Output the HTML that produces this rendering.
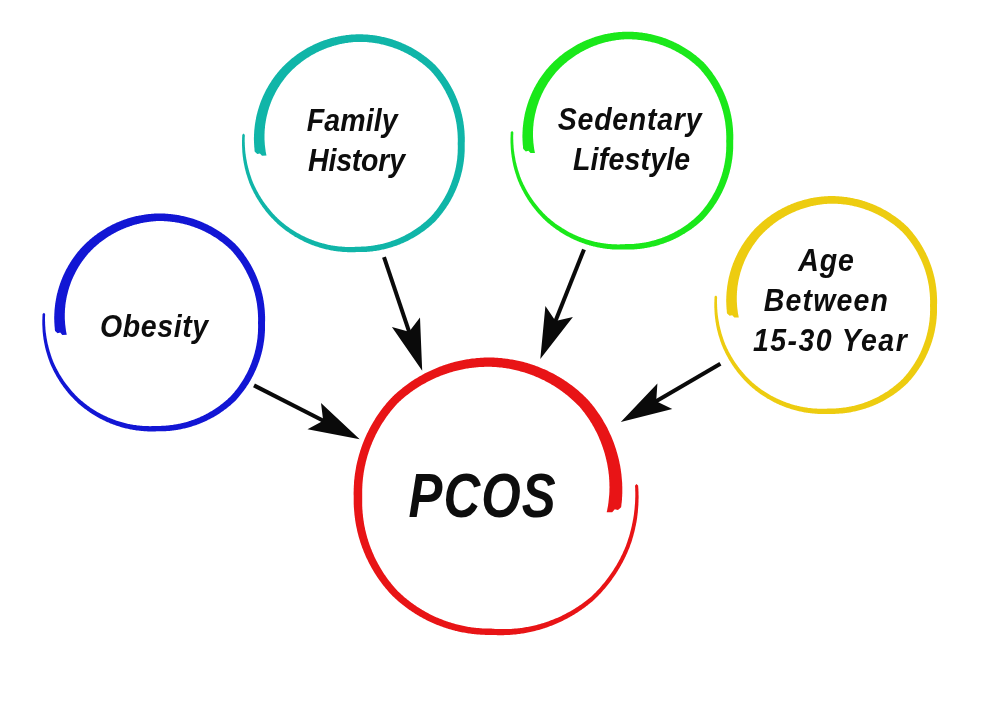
<!DOCTYPE html>
<html><head><meta charset="utf-8"><style>
html,body{margin:0;padding:0;background:#fff;width:1000px;height:701px;overflow:hidden}
svg{display:block;will-change:transform}
text{font-family:"Liberation Sans",sans-serif;font-weight:bold;font-style:italic;fill:#0d0d0d}
</style></head><body>
<svg width="1000" height="701" viewBox="0 0 1000 701">
<rect width="1000" height="701" fill="#fff"/>
<path d="M55.1 330.9 L54.9 330.1 L54.8 329.2 L54.8 328.3 L54.7 327.4 L54.6 326.5 L54.5 325.6 L54.5 324.7 L54.4 323.8 L54.4 322.9 L54.3 322.0 L54.3 321.1 L54.3 320.2 L54.2 319.3 L54.2 318.4 L54.2 317.5 L54.2 316.6 L54.3 315.7 L54.3 314.8 L54.3 313.9 L54.4 313.0 L54.4 312.1 L54.5 311.2 L54.5 310.3 L54.6 309.4 L54.7 308.5 L54.8 307.6 L54.9 306.7 L55.0 305.8 L55.1 304.9 L55.2 304.0 L55.3 303.1 L55.5 302.2 L55.6 301.3 L55.8 300.4 L55.9 299.5 L56.1 298.6 L56.3 297.7 L56.4 296.8 L56.6 295.9 L56.8 295.0 L57.0 294.1 L57.2 293.3 L57.5 292.4 L57.7 291.5 L57.9 290.6 L58.2 289.7 L58.4 288.9 L58.7 288.0 L59.0 287.1 L59.2 286.2 L59.5 285.4 L59.8 284.5 L60.1 283.6 L60.4 282.8 L60.7 281.9 L61.0 281.0 L61.4 280.2 L61.7 279.3 L62.1 278.5 L62.4 277.6 L62.8 276.8 L63.1 276.0 L63.5 275.1 L63.9 274.3 L64.3 273.4 L64.7 272.6 L65.1 271.8 L65.5 271.0 L65.9 270.1 L66.3 269.3 L66.8 268.5 L67.2 267.7 L67.7 266.9 L68.1 266.1 L68.6 265.3 L69.1 264.5 L69.5 263.7 L70.0 262.9 L70.5 262.1 L71.0 261.4 L71.5 260.6 L72.0 259.8 L72.6 259.0 L73.1 258.3 L73.6 257.5 L74.2 256.8 L74.7 256.0 L75.3 255.3 L75.8 254.5 L76.4 253.8 L77.0 253.1 L77.5 252.3 L78.1 251.6 L78.7 250.9 L79.3 250.2 L79.9 249.5 L80.5 248.8 L81.2 248.1 L81.8 247.4 L82.4 246.7 L83.1 246.0 L83.7 245.4 L84.4 244.7 L85.0 244.1 L85.7 243.4 L86.4 242.8 L87.1 242.1 L87.8 241.5 L88.5 240.9 L89.2 240.2 L89.9 239.6 L90.6 239.0 L91.3 238.4 L92.0 237.8 L92.7 237.2 L93.5 236.7 L94.2 236.1 L95.0 235.5 L95.7 234.9 L96.5 234.4 L97.2 233.8 L98.0 233.3 L98.8 232.7 L99.5 232.2 L100.3 231.7 L101.1 231.2 L101.9 230.7 L102.7 230.2 L103.5 229.7 L104.3 229.2 L105.1 228.7 L105.9 228.2 L106.7 227.7 L107.5 227.3 L108.3 226.8 L109.2 226.4 L110.0 225.9 L110.8 225.5 L111.7 225.1 L112.5 224.6 L113.4 224.2 L114.2 223.8 L115.1 223.4 L115.9 223.0 L116.8 222.6 L117.7 222.3 L118.5 221.9 L119.4 221.5 L120.3 221.2 L121.2 220.8 L122.0 220.5 L122.9 220.2 L123.8 219.8 L124.7 219.5 L125.6 219.2 L126.5 218.9 L127.4 218.6 L128.3 218.3 L129.2 218.1 L130.1 217.8 L131.0 217.5 L131.9 217.3 L132.9 217.0 L133.8 216.8 L134.7 216.6 L135.6 216.3 L136.5 216.1 L137.5 215.9 L138.4 215.7 L139.3 215.5 L140.3 215.4 L141.2 215.2 L142.1 215.0 L143.1 214.9 L144.0 214.7 L145.0 214.6 L145.9 214.4 L146.8 214.3 L147.8 214.2 L148.7 214.1 L149.7 214.0 L150.6 213.9 L151.6 213.8 L152.5 213.7 L153.5 213.7 L154.4 213.6 L155.4 213.6 L156.3 213.5 L157.3 213.5 L158.3 213.5 L159.2 213.5 L160.2 213.5 L161.1 213.5 L162.1 213.5 L163.0 213.5 L164.0 213.6 L164.9 213.6 L165.9 213.7 L166.8 213.7 L167.8 213.8 L168.8 213.9 L169.7 214.0 L170.7 214.1 L171.6 214.2 L172.6 214.3 L173.5 214.4 L174.5 214.5 L175.4 214.7 L176.4 214.8 L177.3 215.0 L178.2 215.1 L179.2 215.3 L180.1 215.5 L181.1 215.7 L182.0 215.9 L182.9 216.1 L183.9 216.3 L184.8 216.5 L185.7 216.7 L186.7 217.0 L187.6 217.2 L188.5 217.5 L189.5 217.7 L190.4 218.0 L191.3 218.3 L192.2 218.5 L193.1 218.8 L194.0 219.1 L195.0 219.5 L195.9 219.8 L196.8 220.1 L197.7 220.4 L198.6 220.8 L199.5 221.1 L200.4 221.5 L201.2 221.8 L202.1 222.2 L203.0 222.6 L203.9 223.0 L204.8 223.4 L205.7 223.8 L206.5 224.2 L207.4 224.6 L208.3 225.0 L209.1 225.5 L210.0 225.9 L210.8 226.3 L211.7 226.8 L212.5 227.3 L213.4 227.7 L214.2 228.2 L215.0 228.7 L215.9 229.2 L216.7 229.7 L217.5 230.2 L218.3 230.7 L219.1 231.2 L219.9 231.8 L220.7 232.3 L221.5 232.8 L222.3 233.4 L223.1 233.9 L223.9 234.5 L224.7 235.1 L225.5 235.7 L226.2 236.2 L227.0 236.8 L227.8 237.4 L228.5 238.0 L229.3 238.7 L230.0 239.3 L230.7 239.9 L231.5 240.5 L232.2 241.2 L232.9 241.8 L233.6 242.5 L234.3 243.1 L235.1 243.8 L235.8 244.4 L236.4 245.2 L237.1 245.9 L237.7 246.6 L238.3 247.3 L239.0 248.1 L239.6 248.8 L240.2 249.5 L240.8 250.3 L241.4 251.1 L242.0 251.8 L242.6 252.6 L243.2 253.3 L243.8 254.1 L244.3 254.9 L244.9 255.7 L245.4 256.5 L246.0 257.3 L246.5 258.1 L247.1 258.9 L247.6 259.7 L248.1 260.5 L248.6 261.3 L249.1 262.1 L249.6 262.9 L250.1 263.8 L250.6 264.6 L251.1 265.4 L251.5 266.3 L252.0 267.1 L252.4 268.0 L252.9 268.8 L253.3 269.7 L253.8 270.5 L254.2 271.4 L254.6 272.3 L255.0 273.1 L255.4 274.0 L255.8 274.9 L256.2 275.7 L256.5 276.6 L256.9 277.5 L257.3 278.4 L257.6 279.3 L258.0 280.2 L258.3 281.1 L258.6 282.0 L259.0 282.9 L259.3 283.8 L259.6 284.7 L259.9 285.6 L260.2 286.5 L260.4 287.4 L260.7 288.3 L261.0 289.2 L261.2 290.1 L261.5 291.1 L261.7 292.0 L261.9 292.9 L262.2 293.8 L262.4 294.7 L262.6 295.7 L262.8 296.6 L263.0 297.5 L263.2 298.5 L263.3 299.4 L263.5 300.3 L263.7 301.3 L263.8 302.2 L263.9 303.1 L264.1 304.1 L264.2 305.0 L264.3 306.0 L264.4 306.9 L264.5 307.8 L264.6 308.8 L264.7 309.7 L264.8 310.7 L264.8 311.6 L264.9 312.5 L264.9 313.5 L265.0 314.4 L265.0 315.4 L265.1 316.3 L265.1 317.3 L265.1 318.2 L265.1 319.1 L265.1 320.1 L265.1 321.0 L265.0 322.0 L265.0 322.9 L265.0 323.8 L265.0 324.8 L265.0 325.7 L265.0 326.7 L265.0 327.6 L265.0 328.5 L265.0 329.5 L265.0 330.4 L264.9 331.4 L264.9 332.3 L264.8 333.3 L264.7 334.2 L264.7 335.1 L264.6 336.1 L264.5 337.0 L264.4 338.0 L264.3 338.9 L264.2 339.8 L264.1 340.8 L263.9 341.7 L263.8 342.6 L263.6 343.6 L263.5 344.5 L263.3 345.4 L263.1 346.4 L263.0 347.3 L262.8 348.2 L262.6 349.1 L262.4 350.1 L262.2 351.0 L261.9 351.9 L261.7 352.8 L261.5 353.8 L261.2 354.7 L261.0 355.6 L260.7 356.5 L260.4 357.4 L260.2 358.3 L259.9 359.2 L259.6 360.1 L259.3 361.0 L259.0 361.9 L258.6 362.8 L258.3 363.7 L258.0 364.6 L257.6 365.5 L257.3 366.4 L256.9 367.3 L256.6 368.1 L256.2 369.0 L255.8 369.9 L255.4 370.8 L255.0 371.6 L254.6 372.5 L254.2 373.3 L253.8 374.2 L253.4 375.1 L252.9 375.9 L252.5 376.8 L252.0 377.6 L251.6 378.4 L251.1 379.3 L250.7 380.1 L250.2 380.9 L249.7 381.8 L249.2 382.6 L248.7 383.4 L248.2 384.2 L247.7 385.0 L247.1 385.8 L246.6 386.6 L246.1 387.4 L245.5 388.2 L245.0 389.0 L244.4 389.8 L243.9 390.5 L243.3 391.3 L242.7 392.1 L242.1 392.8 L241.5 393.6 L240.9 394.3 L240.3 395.1 L239.7 395.8 L239.1 396.6 L238.5 397.3 L237.8 398.0 L237.2 398.7 L236.6 399.4 L235.9 400.2 L235.3 400.9 L234.6 401.5 L233.9 402.2 L233.1 402.8 L232.4 403.5 L231.7 404.1 L231.0 404.7 L230.3 405.4 L229.5 406.0 L228.8 406.6 L228.0 407.2 L227.3 407.8 L226.5 408.4 L225.8 409.0 L225.0 409.6 L224.2 410.1 L223.5 410.7 L222.7 411.2 L221.9 411.8 L221.1 412.3 L220.3 412.9 L219.5 413.4 L218.7 413.9 L217.9 414.4 L217.1 414.9 L216.3 415.5 L215.4 415.9 L214.6 416.4 L213.8 416.9 L213.0 417.4 L212.1 417.8 L211.3 418.3 L210.4 418.8 L209.6 419.2 L208.7 419.6 L207.9 420.1 L207.0 420.5 L206.2 420.9 L205.3 421.3 L204.4 421.7 L203.5 422.1 L202.7 422.5 L201.8 422.8 L200.9 423.2 L200.0 423.6 L199.1 423.9 L198.2 424.2 L197.4 424.6 L196.5 424.9 L195.6 425.2 L194.7 425.5 L193.8 425.8 L192.8 426.1 L191.9 426.4 L191.0 426.7 L190.1 427.0 L189.2 427.2 L188.3 427.5 L187.4 427.7 L186.4 428.0 L185.5 428.2 L184.6 428.4 L183.7 428.6 L182.7 428.8 L181.8 429.0 L180.9 429.2 L179.9 429.4 L179.0 429.6 L178.1 429.8 L177.1 429.9 L176.2 430.1 L175.3 430.2 L174.3 430.3 L173.4 430.5 L172.4 430.6 L171.5 430.7 L170.5 430.8 L169.6 430.9 L168.7 431.0 L167.7 431.0 L166.8 431.1 L165.8 431.2 L164.9 431.2 L163.9 431.2 L163.0 431.3 L162.0 431.3 L161.1 431.3 L160.1 431.3 L159.2 431.3 L158.2 431.3 L157.3 431.3 L156.4 431.3 L155.4 431.4 L154.5 431.4 L153.5 431.4 L152.6 431.4 L151.6 431.4 L150.7 431.4 L149.7 431.4 L148.8 431.4 L147.8 431.4 L146.9 431.3 L145.9 431.3 L145.0 431.2 L144.0 431.2 L143.1 431.1 L142.1 431.0 L141.2 430.9 L140.2 430.8 L139.3 430.7 L138.3 430.6 L137.4 430.5 L136.4 430.4 L135.5 430.2 L134.5 430.1 L133.6 429.9 L132.6 429.8 L131.7 429.6 L130.7 429.4 L129.8 429.2 L128.9 429.0 L127.9 428.8 L127.0 428.6 L126.0 428.4 L125.1 428.2 L124.2 427.9 L123.3 427.7 L122.3 427.4 L121.4 427.2 L120.5 426.9 L119.5 426.6 L118.6 426.3 L117.7 426.0 L116.8 425.7 L115.9 425.4 L115.0 425.1 L114.1 424.8 L113.1 424.4 L112.2 424.1 L111.3 423.7 L110.4 423.4 L109.5 423.0 L108.7 422.6 L107.8 422.3 L106.9 421.9 L106.0 421.5 L105.1 421.1 L104.2 420.6 L103.4 420.2 L102.5 419.8 L101.6 419.3 L100.8 418.9 L99.9 418.4 L99.0 418.0 L98.2 417.5 L97.3 417.0 L96.5 416.5 L95.6 416.1 L94.8 415.6 L94.0 415.0 L93.1 414.5 L92.3 414.0 L91.5 413.5 L90.7 412.9 L89.9 412.4 L89.1 411.8 L88.2 411.3 L87.4 410.7 L86.7 410.1 L85.9 409.6 L85.1 409.0 L84.3 408.4 L83.5 407.8 L82.8 407.2 L82.0 406.5 L81.2 405.9 L80.5 405.3 L79.7 404.7 L79.0 404.0 L78.2 403.4 L77.5 402.7 L76.8 402.0 L76.1 401.3 L75.4 400.7 L74.7 400.0 L74.0 399.3 L73.3 398.5 L72.6 397.8 L71.9 397.1 L71.3 396.4 L70.6 395.7 L69.9 394.9 L69.3 394.2 L68.6 393.4 L68.0 392.7 L67.4 391.9 L66.7 391.1 L66.1 390.4 L65.5 389.6 L64.9 388.8 L64.3 388.0 L63.7 387.2 L63.1 386.4 L62.5 385.6 L62.0 384.8 L61.4 384.0 L60.8 383.2 L60.3 382.3 L59.7 381.5 L59.2 380.7 L58.7 379.8 L58.2 379.0 L57.6 378.1 L57.1 377.3 L56.6 376.4 L56.1 375.6 L55.7 374.7 L55.2 373.8 L54.7 372.9 L54.2 372.1 L53.8 371.2 L53.3 370.3 L52.9 369.4 L52.5 368.5 L52.0 367.6 L51.6 366.7 L51.2 365.8 L50.8 364.9 L50.4 363.9 L50.0 363.0 L49.6 362.1 L49.3 361.1 L49.0 360.2 L48.6 359.3 L48.3 358.3 L48.0 357.4 L47.7 356.4 L47.4 355.5 L47.1 354.5 L46.8 353.6 L46.5 352.6 L46.2 351.6 L46.0 350.7 L45.7 349.7 L45.5 348.7 L45.2 347.7 L45.0 346.8 L44.8 345.8 L44.6 344.8 L44.4 343.8 L44.2 342.8 L44.0 341.9 L43.9 340.9 L43.7 339.9 L43.5 338.9 L43.4 337.9 L43.3 336.9 L43.1 335.9 L43.0 334.9 L42.9 333.9 L42.8 332.9 L42.7 331.9 L42.6 330.9 L42.6 329.9 L42.5 328.9 L42.5 327.9 L42.4 326.9 L42.4 325.9 L42.3 324.9 L42.3 323.9 L42.3 322.9 L42.3 321.9 L42.3 320.9 L42.3 319.9 L42.4 318.9 L42.4 317.9 L42.4 316.9 L42.5 315.9 L42.5 314.9 L42.6 313.9 L44.0 312.8 L45.1 314.1 L45.1 315.1 L45.1 316.0 L45.0 317.0 L45.0 318.0 L45.0 319.0 L45.0 320.0 L45.0 320.9 L45.1 321.9 L45.1 322.9 L45.1 323.9 L45.2 324.9 L45.2 325.8 L45.3 326.8 L45.4 327.8 L45.4 328.8 L45.5 329.7 L45.6 330.7 L45.7 331.7 L45.8 332.7 L46.0 333.6 L46.1 334.6 L46.2 335.6 L46.4 336.5 L46.5 337.5 L46.7 338.4 L46.9 339.4 L47.1 340.4 L47.2 341.3 L47.4 342.3 L47.6 343.2 L47.8 344.2 L48.1 345.1 L48.3 346.1 L48.5 347.0 L48.8 348.0 L49.0 348.9 L49.3 349.8 L49.5 350.8 L49.8 351.7 L50.1 352.6 L50.4 353.6 L50.7 354.5 L51.0 355.4 L51.3 356.3 L51.6 357.2 L51.9 358.2 L52.3 359.1 L52.6 360.0 L53.0 360.9 L53.3 361.8 L53.7 362.7 L54.1 363.5 L54.5 364.4 L54.9 365.3 L55.3 366.2 L55.8 367.0 L56.2 367.9 L56.6 368.8 L57.1 369.6 L57.5 370.5 L58.0 371.3 L58.5 372.2 L58.9 373.0 L59.4 373.9 L59.9 374.7 L60.4 375.5 L60.9 376.3 L61.4 377.1 L61.9 378.0 L62.5 378.8 L63.0 379.6 L63.5 380.4 L64.1 381.2 L64.6 381.9 L65.2 382.7 L65.7 383.5 L66.3 384.3 L66.9 385.0 L67.5 385.8 L68.1 386.6 L68.7 387.3 L69.3 388.0 L69.9 388.8 L70.5 389.5 L71.1 390.2 L71.7 391.0 L72.4 391.7 L73.0 392.4 L73.6 393.1 L74.3 393.8 L74.9 394.5 L75.6 395.2 L76.3 395.9 L77.0 396.5 L77.6 397.2 L78.3 397.9 L79.0 398.5 L79.7 399.2 L80.4 399.8 L81.1 400.4 L81.8 401.0 L82.6 401.6 L83.3 402.2 L84.0 402.8 L84.8 403.4 L85.5 404.0 L86.3 404.6 L87.0 405.2 L87.8 405.7 L88.6 406.3 L89.3 406.8 L90.1 407.4 L90.9 407.9 L91.7 408.4 L92.5 408.9 L93.3 409.4 L94.1 410.0 L94.9 410.4 L95.7 410.9 L96.5 411.4 L97.3 411.9 L98.1 412.4 L98.9 412.8 L99.7 413.3 L100.6 413.7 L101.4 414.2 L102.2 414.6 L103.0 415.0 L103.9 415.4 L104.7 415.8 L105.6 416.2 L106.4 416.6 L107.3 417.0 L108.1 417.4 L109.0 417.7 L109.8 418.1 L110.7 418.5 L111.6 418.8 L112.4 419.1 L113.3 419.5 L114.2 419.8 L115.0 420.1 L115.9 420.4 L116.8 420.7 L117.7 421.0 L118.5 421.3 L119.4 421.6 L120.3 421.8 L121.2 422.1 L122.1 422.3 L123.0 422.6 L123.9 422.8 L124.8 423.0 L125.7 423.3 L126.6 423.5 L127.4 423.7 L128.3 423.9 L129.2 424.1 L130.1 424.2 L131.0 424.4 L131.9 424.6 L132.9 424.7 L133.8 424.9 L134.7 425.0 L135.6 425.1 L136.5 425.3 L137.4 425.4 L138.3 425.5 L139.2 425.6 L140.1 425.7 L141.0 425.8 L141.9 425.8 L142.8 425.9 L143.7 426.0 L144.6 426.0 L145.5 426.1 L146.5 426.1 L147.4 426.1 L148.3 426.1 L149.2 426.2 L150.1 426.2 L151.0 426.2 L151.9 426.1 L152.8 426.1 L153.7 426.1 L154.6 426.1 L155.5 426.0 L156.4 426.0 L157.3 425.9 L158.2 425.9 L159.1 425.9 L160.0 425.9 L160.9 425.9 L161.8 425.8 L162.7 425.8 L163.6 425.8 L164.5 425.7 L165.4 425.7 L166.3 425.6 L167.2 425.5 L168.1 425.4 L169.0 425.3 L169.9 425.2 L170.8 425.1 L171.7 425.0 L172.5 424.9 L173.4 424.8 L174.3 424.6 L175.2 424.5 L176.1 424.3 L177.0 424.2 L177.9 424.0 L178.8 423.8 L179.6 423.7 L180.5 423.5 L181.4 423.3 L182.3 423.1 L183.1 422.9 L184.0 422.6 L184.9 422.4 L185.8 422.2 L186.6 421.9 L187.5 421.7 L188.4 421.4 L189.2 421.1 L190.1 420.9 L190.9 420.6 L191.8 420.3 L192.6 420.0 L193.5 419.7 L194.3 419.4 L195.2 419.1 L196.0 418.7 L196.9 418.4 L197.7 418.1 L198.5 417.7 L199.4 417.4 L200.2 417.0 L201.0 416.6 L201.8 416.2 L202.6 415.9 L203.5 415.5 L204.3 415.1 L205.1 414.7 L205.9 414.3 L206.7 413.8 L207.5 413.4 L208.3 413.0 L209.0 412.5 L209.8 412.1 L210.6 411.6 L211.4 411.2 L212.2 410.7 L212.9 410.2 L213.7 409.7 L214.5 409.3 L215.2 408.8 L216.0 408.3 L216.7 407.8 L217.5 407.2 L218.2 406.7 L218.9 406.2 L219.7 405.7 L220.4 405.1 L221.1 404.6 L221.8 404.0 L222.5 403.5 L223.2 402.9 L223.9 402.3 L224.6 401.7 L225.3 401.2 L226.0 400.6 L226.7 400.0 L227.4 399.4 L228.0 398.8 L228.7 398.1 L229.4 397.5 L230.0 396.9 L230.7 396.3 L231.3 395.6 L231.9 394.9 L232.5 394.2 L233.1 393.6 L233.7 392.9 L234.3 392.2 L234.8 391.5 L235.4 390.8 L236.0 390.1 L236.5 389.4 L237.1 388.7 L237.6 387.9 L238.2 387.2 L238.7 386.5 L239.2 385.7 L239.7 385.0 L240.2 384.3 L240.7 383.5 L241.2 382.8 L241.7 382.0 L242.2 381.3 L242.7 380.5 L243.2 379.7 L243.6 379.0 L244.1 378.2 L244.5 377.4 L245.0 376.6 L245.4 375.8 L245.8 375.1 L246.3 374.3 L246.7 373.5 L247.1 372.7 L247.5 371.9 L247.9 371.1 L248.3 370.3 L248.7 369.4 L249.0 368.6 L249.4 367.8 L249.8 367.0 L250.1 366.2 L250.4 365.3 L250.8 364.5 L251.1 363.7 L251.4 362.9 L251.7 362.0 L252.0 361.2 L252.3 360.3 L252.6 359.5 L252.9 358.7 L253.2 357.8 L253.5 357.0 L253.7 356.1 L254.0 355.3 L254.2 354.4 L254.5 353.5 L254.7 352.7 L254.9 351.8 L255.1 351.0 L255.3 350.1 L255.6 349.2 L255.7 348.4 L255.9 347.5 L256.1 346.6 L256.3 345.8 L256.4 344.9 L256.6 344.0 L256.7 343.1 L256.9 342.3 L257.0 341.4 L257.1 340.5 L257.3 339.6 L257.4 338.7 L257.5 337.9 L257.6 337.0 L257.6 336.1 L257.7 335.2 L257.8 334.3 L257.9 333.5 L257.9 332.6 L258.0 331.7 L258.0 330.8 L258.0 329.9 L258.0 329.1 L258.1 328.2 L258.1 327.3 L258.1 326.4 L258.1 325.5 L258.1 324.7 L258.0 323.8 L258.0 322.9 L258.0 322.0 L258.1 321.1 L258.1 320.3 L258.1 319.4 L258.1 318.5 L258.1 317.6 L258.0 316.7 L258.0 315.9 L258.0 315.0 L257.9 314.1 L257.9 313.2 L257.8 312.3 L257.8 311.5 L257.7 310.6 L257.6 309.7 L257.5 308.8 L257.4 307.9 L257.3 307.1 L257.2 306.2 L257.1 305.3 L257.0 304.4 L256.9 303.5 L256.7 302.7 L256.6 301.8 L256.4 300.9 L256.2 300.1 L256.1 299.2 L255.9 298.3 L255.7 297.4 L255.5 296.6 L255.3 295.7 L255.1 294.9 L254.9 294.0 L254.7 293.1 L254.4 292.3 L254.2 291.4 L253.9 290.6 L253.7 289.7 L253.4 288.9 L253.2 288.0 L252.9 287.2 L252.6 286.3 L252.3 285.5 L252.0 284.6 L251.7 283.8 L251.4 283.0 L251.1 282.1 L250.7 281.3 L250.4 280.5 L250.1 279.6 L249.7 278.8 L249.3 278.0 L249.0 277.2 L248.6 276.4 L248.2 275.6 L247.8 274.8 L247.4 274.0 L247.0 273.2 L246.6 272.4 L246.2 271.6 L245.8 270.8 L245.4 270.0 L244.9 269.2 L244.5 268.4 L244.0 267.6 L243.6 266.9 L243.1 266.1 L242.6 265.3 L242.2 264.6 L241.7 263.8 L241.2 263.1 L240.7 262.3 L240.2 261.6 L239.7 260.8 L239.1 260.1 L238.6 259.4 L238.1 258.6 L237.5 257.9 L237.0 257.2 L236.4 256.5 L235.9 255.8 L235.3 255.1 L234.8 254.4 L234.2 253.7 L233.6 253.0 L233.0 252.3 L232.4 251.6 L231.8 250.9 L231.2 250.3 L230.6 249.6 L229.9 249.0 L229.3 248.4 L228.6 247.8 L227.9 247.2 L227.3 246.6 L226.6 246.0 L225.9 245.4 L225.2 244.8 L224.5 244.2 L223.8 243.7 L223.1 243.1 L222.4 242.5 L221.7 242.0 L220.9 241.4 L220.2 240.9 L219.5 240.4 L218.7 239.9 L218.0 239.3 L217.3 238.8 L216.5 238.3 L215.8 237.8 L215.0 237.3 L214.2 236.9 L213.5 236.4 L212.7 235.9 L211.9 235.5 L211.2 235.0 L210.4 234.5 L209.6 234.1 L208.8 233.7 L208.0 233.2 L207.2 232.8 L206.4 232.4 L205.6 232.0 L204.8 231.6 L204.0 231.2 L203.2 230.8 L202.4 230.4 L201.6 230.1 L200.8 229.7 L199.9 229.3 L199.1 229.0 L198.3 228.7 L197.4 228.3 L196.6 228.0 L195.8 227.7 L194.9 227.4 L194.1 227.1 L193.2 226.8 L192.4 226.5 L191.5 226.2 L190.7 225.9 L189.8 225.6 L189.0 225.4 L188.1 225.1 L187.3 224.9 L186.4 224.6 L185.5 224.4 L184.7 224.2 L183.8 224.0 L182.9 223.8 L182.1 223.6 L181.2 223.4 L180.3 223.2 L179.4 223.0 L178.6 222.8 L177.7 222.7 L176.8 222.5 L175.9 222.4 L175.0 222.2 L174.2 222.1 L173.3 222.0 L172.4 221.9 L171.5 221.8 L170.6 221.7 L169.7 221.6 L168.9 221.5 L168.0 221.4 L167.1 221.3 L166.2 221.3 L165.3 221.2 L164.4 221.2 L163.5 221.1 L162.6 221.1 L161.7 221.1 L160.9 221.1 L160.0 221.1 L159.1 221.1 L158.2 221.1 L157.3 221.1 L156.4 221.1 L155.5 221.2 L154.6 221.3 L153.8 221.3 L152.9 221.4 L152.0 221.5 L151.1 221.6 L150.2 221.7 L149.3 221.8 L148.5 221.9 L147.6 222.1 L146.7 222.2 L145.8 222.3 L145.0 222.5 L144.1 222.6 L143.2 222.8 L142.4 223.0 L141.5 223.1 L140.6 223.3 L139.8 223.5 L138.9 223.7 L138.1 223.9 L137.2 224.1 L136.4 224.4 L135.5 224.6 L134.7 224.8 L133.8 225.1 L133.0 225.3 L132.1 225.6 L131.3 225.9 L130.5 226.1 L129.6 226.4 L128.8 226.7 L128.0 227.0 L127.2 227.3 L126.3 227.6 L125.5 227.9 L124.7 228.2 L123.9 228.6 L123.1 228.9 L122.3 229.3 L121.5 229.6 L120.7 230.0 L119.9 230.3 L119.1 230.7 L118.3 231.1 L117.5 231.5 L116.8 231.8 L116.0 232.2 L115.2 232.7 L114.4 233.1 L113.7 233.5 L112.9 233.9 L112.2 234.3 L111.4 234.8 L110.7 235.2 L109.9 235.7 L109.2 236.1 L108.5 236.6 L107.7 237.0 L107.0 237.5 L106.3 238.0 L105.6 238.5 L104.9 239.0 L104.2 239.5 L103.5 240.0 L102.8 240.5 L102.1 241.0 L101.4 241.5 L100.7 242.1 L100.0 242.6 L99.3 243.1 L98.7 243.7 L98.0 244.2 L97.4 244.8 L96.7 245.3 L96.1 245.9 L95.4 246.5 L94.8 247.1 L94.1 247.6 L93.5 248.2 L92.9 248.8 L92.3 249.4 L91.7 250.0 L91.1 250.6 L90.5 251.2 L89.9 251.9 L89.3 252.5 L88.7 253.1 L88.1 253.7 L87.6 254.4 L87.0 255.0 L86.5 255.7 L86.0 256.4 L85.4 257.0 L84.9 257.7 L84.4 258.4 L83.9 259.1 L83.4 259.7 L82.9 260.4 L82.4 261.1 L81.9 261.8 L81.4 262.5 L80.9 263.2 L80.4 263.9 L80.0 264.6 L79.5 265.4 L79.1 266.1 L78.6 266.8 L78.2 267.5 L77.8 268.2 L77.3 269.0 L76.9 269.7 L76.5 270.4 L76.1 271.2 L75.7 271.9 L75.3 272.7 L75.0 273.4 L74.6 274.2 L74.2 274.9 L73.8 275.7 L73.5 276.4 L73.1 277.2 L72.8 278.0 L72.5 278.7 L72.1 279.5 L71.8 280.3 L71.5 281.1 L71.2 281.8 L70.9 282.6 L70.6 283.4 L70.3 284.2 L70.1 285.0 L69.8 285.8 L69.5 286.5 L69.3 287.3 L69.0 288.1 L68.8 288.9 L68.5 289.7 L68.3 290.5 L68.1 291.3 L67.9 292.1 L67.7 292.9 L67.5 293.7 L67.3 294.5 L67.1 295.3 L66.9 296.1 L66.7 296.9 L66.6 297.7 L66.4 298.5 L66.3 299.4 L66.1 300.2 L66.0 301.0 L65.9 301.8 L65.7 302.6 L65.6 303.4 L65.5 304.2 L65.4 305.0 L65.3 305.9 L65.3 306.7 L65.2 307.5 L65.1 308.3 L65.0 309.1 L65.0 309.9 L64.9 310.7 L64.9 311.6 L64.9 312.4 L64.8 313.2 L64.8 314.0 L64.8 314.8 L64.8 315.6 L64.8 316.4 L64.8 317.2 L64.8 318.1 L64.8 318.9 L64.9 319.7 L64.9 320.5 L65.0 321.3 L65.0 322.1 L65.1 322.9 L65.1 323.7 L65.2 324.5 L65.3 325.3 L65.4 326.1 L65.5 326.9 L65.6 327.7 L65.7 328.5 L65.8 329.3 L65.9 330.1 L66.0 330.9 L66.2 331.7 L66.3 332.5 L66.5 333.2 L66.6 334.0 L66.8 334.8 L62.3 334.9 L60.2 332.6 L57.6 333.2 Z" fill="#1216d4"/>
<path d="M254.8 151.7 L254.6 150.9 L254.5 150.0 L254.5 149.1 L254.4 148.2 L254.3 147.3 L254.2 146.4 L254.2 145.5 L254.1 144.6 L254.1 143.7 L254.0 142.8 L254.0 141.9 L254.0 141.0 L253.9 140.1 L253.9 139.2 L253.9 138.3 L253.9 137.4 L254.0 136.5 L254.0 135.6 L254.0 134.7 L254.1 133.8 L254.1 132.9 L254.2 132.0 L254.2 131.1 L254.3 130.2 L254.4 129.3 L254.5 128.4 L254.6 127.5 L254.7 126.6 L254.8 125.7 L254.9 124.8 L255.0 123.9 L255.2 123.0 L255.3 122.1 L255.5 121.2 L255.6 120.3 L255.8 119.4 L256.0 118.5 L256.1 117.6 L256.3 116.7 L256.5 115.8 L256.7 114.9 L256.9 114.1 L257.2 113.2 L257.4 112.3 L257.6 111.4 L257.9 110.5 L258.1 109.7 L258.4 108.8 L258.7 107.9 L258.9 107.0 L259.2 106.2 L259.5 105.3 L259.8 104.4 L260.1 103.6 L260.4 102.7 L260.7 101.8 L261.1 101.0 L261.4 100.1 L261.8 99.3 L262.1 98.4 L262.5 97.6 L262.8 96.8 L263.2 95.9 L263.6 95.1 L264.0 94.2 L264.4 93.4 L264.8 92.6 L265.2 91.8 L265.6 90.9 L266.0 90.1 L266.5 89.3 L266.9 88.5 L267.4 87.7 L267.8 86.9 L268.3 86.1 L268.8 85.3 L269.2 84.5 L269.7 83.7 L270.2 82.9 L270.7 82.2 L271.2 81.4 L271.7 80.6 L272.3 79.8 L272.8 79.1 L273.3 78.3 L273.9 77.6 L274.4 76.8 L275.0 76.1 L275.5 75.3 L276.1 74.6 L276.7 73.9 L277.2 73.1 L277.8 72.4 L278.4 71.7 L279.0 71.0 L279.6 70.3 L280.2 69.6 L280.9 68.9 L281.5 68.2 L282.1 67.5 L282.8 66.8 L283.4 66.2 L284.1 65.5 L284.7 64.9 L285.4 64.2 L286.1 63.6 L286.8 62.9 L287.5 62.3 L288.2 61.7 L288.9 61.0 L289.6 60.4 L290.3 59.8 L291.0 59.2 L291.7 58.6 L292.4 58.0 L293.2 57.5 L293.9 56.9 L294.7 56.3 L295.4 55.7 L296.2 55.2 L296.9 54.6 L297.7 54.1 L298.5 53.5 L299.2 53.0 L300.0 52.5 L300.8 52.0 L301.6 51.5 L302.4 51.0 L303.2 50.5 L304.0 50.0 L304.8 49.5 L305.6 49.0 L306.4 48.5 L307.2 48.1 L308.0 47.6 L308.9 47.2 L309.7 46.7 L310.5 46.3 L311.4 45.9 L312.2 45.4 L313.1 45.0 L313.9 44.6 L314.8 44.2 L315.6 43.8 L316.5 43.4 L317.4 43.1 L318.2 42.7 L319.1 42.3 L320.0 42.0 L320.9 41.6 L321.7 41.3 L322.6 41.0 L323.5 40.6 L324.4 40.3 L325.3 40.0 L326.2 39.7 L327.1 39.4 L328.0 39.1 L328.9 38.9 L329.8 38.6 L330.7 38.3 L331.6 38.1 L332.6 37.8 L333.5 37.6 L334.4 37.4 L335.3 37.1 L336.2 36.9 L337.2 36.7 L338.1 36.5 L339.0 36.3 L340.0 36.2 L340.9 36.0 L341.8 35.8 L342.8 35.7 L343.7 35.5 L344.7 35.4 L345.6 35.2 L346.5 35.1 L347.5 35.0 L348.4 34.9 L349.4 34.8 L350.3 34.7 L351.3 34.6 L352.2 34.5 L353.2 34.5 L354.1 34.4 L355.1 34.4 L356.0 34.3 L357.0 34.3 L358.0 34.3 L358.9 34.3 L359.9 34.3 L360.8 34.3 L361.8 34.3 L362.7 34.3 L363.7 34.4 L364.6 34.4 L365.6 34.5 L366.5 34.5 L367.5 34.6 L368.5 34.7 L369.4 34.8 L370.4 34.9 L371.3 35.0 L372.3 35.1 L373.2 35.2 L374.2 35.3 L375.1 35.5 L376.1 35.6 L377.0 35.8 L377.9 35.9 L378.9 36.1 L379.8 36.3 L380.8 36.5 L381.7 36.7 L382.6 36.9 L383.6 37.1 L384.5 37.3 L385.4 37.5 L386.4 37.8 L387.3 38.0 L388.2 38.3 L389.2 38.5 L390.1 38.8 L391.0 39.1 L391.9 39.3 L392.8 39.6 L393.7 39.9 L394.7 40.3 L395.6 40.6 L396.5 40.9 L397.4 41.2 L398.3 41.6 L399.2 41.9 L400.1 42.3 L400.9 42.6 L401.8 43.0 L402.7 43.4 L403.6 43.8 L404.5 44.2 L405.4 44.6 L406.2 45.0 L407.1 45.4 L408.0 45.8 L408.8 46.3 L409.7 46.7 L410.5 47.1 L411.4 47.6 L412.2 48.1 L413.1 48.5 L413.9 49.0 L414.7 49.5 L415.6 50.0 L416.4 50.5 L417.2 51.0 L418.0 51.5 L418.8 52.0 L419.6 52.6 L420.4 53.1 L421.2 53.6 L422.0 54.2 L422.8 54.7 L423.6 55.3 L424.4 55.9 L425.2 56.5 L425.9 57.0 L426.7 57.6 L427.5 58.2 L428.2 58.8 L429.0 59.5 L429.7 60.1 L430.4 60.7 L431.2 61.3 L431.9 62.0 L432.6 62.6 L433.3 63.3 L434.0 63.9 L434.8 64.6 L435.5 65.2 L436.1 66.0 L436.8 66.7 L437.4 67.4 L438.0 68.1 L438.7 68.9 L439.3 69.6 L439.9 70.3 L440.5 71.1 L441.1 71.9 L441.7 72.6 L442.3 73.4 L442.9 74.1 L443.5 74.9 L444.0 75.7 L444.6 76.5 L445.1 77.3 L445.7 78.1 L446.2 78.9 L446.8 79.7 L447.3 80.5 L447.8 81.3 L448.3 82.1 L448.8 82.9 L449.3 83.7 L449.8 84.6 L450.3 85.4 L450.8 86.2 L451.2 87.1 L451.7 87.9 L452.1 88.8 L452.6 89.6 L453.0 90.5 L453.5 91.3 L453.9 92.2 L454.3 93.1 L454.7 93.9 L455.1 94.8 L455.5 95.7 L455.9 96.5 L456.2 97.4 L456.6 98.3 L457.0 99.2 L457.3 100.1 L457.7 101.0 L458.0 101.9 L458.3 102.8 L458.7 103.7 L459.0 104.6 L459.3 105.5 L459.6 106.4 L459.9 107.3 L460.1 108.2 L460.4 109.1 L460.7 110.0 L460.9 110.9 L461.2 111.9 L461.4 112.8 L461.6 113.7 L461.9 114.6 L462.1 115.5 L462.3 116.5 L462.5 117.4 L462.7 118.3 L462.9 119.3 L463.0 120.2 L463.2 121.1 L463.4 122.1 L463.5 123.0 L463.6 123.9 L463.8 124.9 L463.9 125.8 L464.0 126.8 L464.1 127.7 L464.2 128.6 L464.3 129.6 L464.4 130.5 L464.5 131.5 L464.5 132.4 L464.6 133.3 L464.6 134.3 L464.7 135.2 L464.7 136.2 L464.8 137.1 L464.8 138.1 L464.8 139.0 L464.8 139.9 L464.8 140.9 L464.8 141.8 L464.7 142.8 L464.7 143.7 L464.7 144.6 L464.7 145.6 L464.7 146.5 L464.7 147.5 L464.7 148.4 L464.7 149.3 L464.7 150.3 L464.7 151.2 L464.6 152.2 L464.6 153.1 L464.5 154.1 L464.4 155.0 L464.4 155.9 L464.3 156.9 L464.2 157.8 L464.1 158.8 L464.0 159.7 L463.9 160.6 L463.8 161.6 L463.6 162.5 L463.5 163.4 L463.3 164.4 L463.2 165.3 L463.0 166.2 L462.8 167.2 L462.7 168.1 L462.5 169.0 L462.3 169.9 L462.1 170.9 L461.9 171.8 L461.6 172.7 L461.4 173.6 L461.2 174.6 L460.9 175.5 L460.7 176.4 L460.4 177.3 L460.1 178.2 L459.9 179.1 L459.6 180.0 L459.3 180.9 L459.0 181.8 L458.7 182.7 L458.3 183.6 L458.0 184.5 L457.7 185.4 L457.3 186.3 L457.0 187.2 L456.6 188.1 L456.3 188.9 L455.9 189.8 L455.5 190.7 L455.1 191.6 L454.7 192.4 L454.3 193.3 L453.9 194.1 L453.5 195.0 L453.1 195.9 L452.6 196.7 L452.2 197.6 L451.7 198.4 L451.3 199.2 L450.8 200.1 L450.4 200.9 L449.9 201.7 L449.4 202.6 L448.9 203.4 L448.4 204.2 L447.9 205.0 L447.4 205.8 L446.8 206.6 L446.3 207.4 L445.8 208.2 L445.2 209.0 L444.7 209.8 L444.1 210.6 L443.6 211.3 L443.0 212.1 L442.4 212.9 L441.8 213.6 L441.2 214.4 L440.6 215.1 L440.0 215.9 L439.4 216.6 L438.8 217.4 L438.2 218.1 L437.5 218.8 L436.9 219.5 L436.3 220.2 L435.6 221.0 L435.0 221.7 L434.3 222.3 L433.6 223.0 L432.8 223.6 L432.1 224.3 L431.4 224.9 L430.7 225.5 L430.0 226.2 L429.2 226.8 L428.5 227.4 L427.7 228.0 L427.0 228.6 L426.2 229.2 L425.5 229.8 L424.7 230.4 L423.9 230.9 L423.2 231.5 L422.4 232.0 L421.6 232.6 L420.8 233.1 L420.0 233.7 L419.2 234.2 L418.4 234.7 L417.6 235.2 L416.8 235.7 L416.0 236.3 L415.1 236.7 L414.3 237.2 L413.5 237.7 L412.7 238.2 L411.8 238.6 L411.0 239.1 L410.1 239.6 L409.3 240.0 L408.4 240.4 L407.6 240.9 L406.7 241.3 L405.9 241.7 L405.0 242.1 L404.1 242.5 L403.2 242.9 L402.4 243.3 L401.5 243.6 L400.6 244.0 L399.7 244.4 L398.8 244.7 L397.9 245.0 L397.1 245.4 L396.2 245.7 L395.3 246.0 L394.4 246.3 L393.5 246.6 L392.5 246.9 L391.6 247.2 L390.7 247.5 L389.8 247.8 L388.9 248.0 L388.0 248.3 L387.1 248.5 L386.1 248.8 L385.2 249.0 L384.3 249.2 L383.4 249.4 L382.4 249.6 L381.5 249.8 L380.6 250.0 L379.6 250.2 L378.7 250.4 L377.8 250.6 L376.8 250.7 L375.9 250.9 L375.0 251.0 L374.0 251.1 L373.1 251.3 L372.1 251.4 L371.2 251.5 L370.2 251.6 L369.3 251.7 L368.4 251.8 L367.4 251.8 L366.5 251.9 L365.5 252.0 L364.6 252.0 L363.6 252.0 L362.7 252.1 L361.7 252.1 L360.8 252.1 L359.8 252.1 L358.9 252.1 L357.9 252.1 L357.0 252.1 L356.1 252.1 L355.1 252.2 L354.2 252.2 L353.2 252.2 L352.3 252.2 L351.3 252.2 L350.4 252.2 L349.4 252.2 L348.5 252.2 L347.5 252.2 L346.6 252.1 L345.6 252.1 L344.7 252.0 L343.7 252.0 L342.8 251.9 L341.8 251.8 L340.9 251.7 L339.9 251.6 L339.0 251.5 L338.0 251.4 L337.1 251.3 L336.1 251.2 L335.2 251.0 L334.2 250.9 L333.3 250.7 L332.3 250.6 L331.4 250.4 L330.4 250.2 L329.5 250.0 L328.6 249.8 L327.6 249.6 L326.7 249.4 L325.7 249.2 L324.8 249.0 L323.9 248.7 L323.0 248.5 L322.0 248.2 L321.1 248.0 L320.2 247.7 L319.2 247.4 L318.3 247.1 L317.4 246.8 L316.5 246.5 L315.6 246.2 L314.7 245.9 L313.8 245.6 L312.8 245.2 L311.9 244.9 L311.0 244.5 L310.1 244.2 L309.2 243.8 L308.4 243.4 L307.5 243.1 L306.6 242.7 L305.7 242.3 L304.8 241.9 L303.9 241.4 L303.1 241.0 L302.2 240.6 L301.3 240.1 L300.5 239.7 L299.6 239.2 L298.7 238.8 L297.9 238.3 L297.0 237.8 L296.2 237.3 L295.3 236.9 L294.5 236.4 L293.7 235.8 L292.8 235.3 L292.0 234.8 L291.2 234.3 L290.4 233.7 L289.6 233.2 L288.8 232.6 L287.9 232.1 L287.1 231.5 L286.4 230.9 L285.6 230.4 L284.8 229.8 L284.0 229.2 L283.2 228.6 L282.5 228.0 L281.7 227.3 L280.9 226.7 L280.2 226.1 L279.4 225.5 L278.7 224.8 L277.9 224.2 L277.2 223.5 L276.5 222.8 L275.8 222.1 L275.1 221.5 L274.4 220.8 L273.7 220.1 L273.0 219.3 L272.3 218.6 L271.6 217.9 L271.0 217.2 L270.3 216.5 L269.6 215.7 L269.0 215.0 L268.3 214.2 L267.7 213.5 L267.1 212.7 L266.4 211.9 L265.8 211.2 L265.2 210.4 L264.6 209.6 L264.0 208.8 L263.4 208.0 L262.8 207.2 L262.2 206.4 L261.7 205.6 L261.1 204.8 L260.5 204.0 L260.0 203.1 L259.4 202.3 L258.9 201.5 L258.4 200.6 L257.9 199.8 L257.3 198.9 L256.8 198.1 L256.3 197.2 L255.8 196.4 L255.4 195.5 L254.9 194.6 L254.4 193.7 L253.9 192.9 L253.5 192.0 L253.0 191.1 L252.6 190.2 L252.2 189.3 L251.7 188.4 L251.3 187.5 L250.9 186.6 L250.5 185.7 L250.1 184.7 L249.7 183.8 L249.3 182.9 L249.0 181.9 L248.7 181.0 L248.3 180.1 L248.0 179.1 L247.7 178.2 L247.4 177.2 L247.1 176.3 L246.8 175.3 L246.5 174.4 L246.2 173.4 L245.9 172.4 L245.7 171.5 L245.4 170.5 L245.2 169.5 L244.9 168.5 L244.7 167.6 L244.5 166.6 L244.3 165.6 L244.1 164.6 L243.9 163.6 L243.7 162.7 L243.6 161.7 L243.4 160.7 L243.2 159.7 L243.1 158.7 L243.0 157.7 L242.8 156.7 L242.7 155.7 L242.6 154.7 L242.5 153.7 L242.4 152.7 L242.3 151.7 L242.3 150.7 L242.2 149.7 L242.2 148.7 L242.1 147.7 L242.1 146.7 L242.0 145.7 L242.0 144.7 L242.0 143.7 L242.0 142.7 L242.0 141.7 L242.0 140.7 L242.1 139.7 L242.1 138.7 L242.1 137.7 L242.2 136.7 L242.2 135.7 L242.3 134.7 L243.7 133.6 L244.8 134.9 L244.8 135.9 L244.8 136.8 L244.7 137.8 L244.7 138.8 L244.7 139.8 L244.7 140.8 L244.7 141.7 L244.8 142.7 L244.8 143.7 L244.8 144.7 L244.9 145.7 L244.9 146.6 L245.0 147.6 L245.1 148.6 L245.1 149.6 L245.2 150.5 L245.3 151.5 L245.4 152.5 L245.5 153.5 L245.7 154.4 L245.8 155.4 L245.9 156.4 L246.1 157.3 L246.2 158.3 L246.4 159.2 L246.6 160.2 L246.8 161.2 L246.9 162.1 L247.1 163.1 L247.3 164.0 L247.5 165.0 L247.8 165.9 L248.0 166.9 L248.2 167.8 L248.5 168.8 L248.7 169.7 L249.0 170.6 L249.2 171.6 L249.5 172.5 L249.8 173.4 L250.1 174.4 L250.4 175.3 L250.7 176.2 L251.0 177.1 L251.3 178.0 L251.6 179.0 L252.0 179.9 L252.3 180.8 L252.7 181.7 L253.0 182.6 L253.4 183.5 L253.8 184.3 L254.2 185.2 L254.6 186.1 L255.0 187.0 L255.5 187.8 L255.9 188.7 L256.3 189.6 L256.8 190.4 L257.2 191.3 L257.7 192.1 L258.2 193.0 L258.6 193.8 L259.1 194.7 L259.6 195.5 L260.1 196.3 L260.6 197.1 L261.1 197.9 L261.6 198.8 L262.2 199.6 L262.7 200.4 L263.2 201.2 L263.8 202.0 L264.3 202.7 L264.9 203.5 L265.4 204.3 L266.0 205.1 L266.6 205.8 L267.2 206.6 L267.8 207.4 L268.4 208.1 L269.0 208.8 L269.6 209.6 L270.2 210.3 L270.8 211.0 L271.4 211.8 L272.1 212.5 L272.7 213.2 L273.3 213.9 L274.0 214.6 L274.6 215.3 L275.3 216.0 L276.0 216.7 L276.7 217.3 L277.3 218.0 L278.0 218.7 L278.7 219.3 L279.4 220.0 L280.1 220.6 L280.8 221.2 L281.5 221.8 L282.3 222.4 L283.0 223.0 L283.7 223.6 L284.5 224.2 L285.2 224.8 L286.0 225.4 L286.7 226.0 L287.5 226.5 L288.3 227.1 L289.0 227.6 L289.8 228.2 L290.6 228.7 L291.4 229.2 L292.2 229.7 L293.0 230.2 L293.8 230.8 L294.6 231.2 L295.4 231.7 L296.2 232.2 L297.0 232.7 L297.8 233.2 L298.6 233.6 L299.4 234.1 L300.3 234.5 L301.1 235.0 L301.9 235.4 L302.7 235.8 L303.6 236.2 L304.4 236.6 L305.3 237.0 L306.1 237.4 L307.0 237.8 L307.8 238.2 L308.7 238.5 L309.5 238.9 L310.4 239.3 L311.3 239.6 L312.1 239.9 L313.0 240.3 L313.9 240.6 L314.7 240.9 L315.6 241.2 L316.5 241.5 L317.4 241.8 L318.2 242.1 L319.1 242.4 L320.0 242.6 L320.9 242.9 L321.8 243.1 L322.7 243.4 L323.6 243.6 L324.5 243.8 L325.4 244.1 L326.3 244.3 L327.1 244.5 L328.0 244.7 L328.9 244.9 L329.8 245.0 L330.7 245.2 L331.6 245.4 L332.6 245.5 L333.5 245.7 L334.4 245.8 L335.3 245.9 L336.2 246.1 L337.1 246.2 L338.0 246.3 L338.9 246.4 L339.8 246.5 L340.7 246.6 L341.6 246.6 L342.5 246.7 L343.4 246.8 L344.3 246.8 L345.2 246.9 L346.2 246.9 L347.1 246.9 L348.0 246.9 L348.9 247.0 L349.8 247.0 L350.7 247.0 L351.6 246.9 L352.5 246.9 L353.4 246.9 L354.3 246.9 L355.2 246.8 L356.1 246.8 L357.0 246.7 L357.9 246.7 L358.8 246.7 L359.7 246.7 L360.6 246.7 L361.5 246.6 L362.4 246.6 L363.3 246.6 L364.2 246.5 L365.1 246.5 L366.0 246.4 L366.9 246.3 L367.8 246.2 L368.7 246.1 L369.6 246.0 L370.5 245.9 L371.4 245.8 L372.2 245.7 L373.1 245.6 L374.0 245.4 L374.9 245.3 L375.8 245.1 L376.7 245.0 L377.6 244.8 L378.5 244.6 L379.3 244.5 L380.2 244.3 L381.1 244.1 L382.0 243.9 L382.8 243.7 L383.7 243.4 L384.6 243.2 L385.5 243.0 L386.3 242.7 L387.2 242.5 L388.1 242.2 L388.9 241.9 L389.8 241.7 L390.6 241.4 L391.5 241.1 L392.3 240.8 L393.2 240.5 L394.0 240.2 L394.9 239.9 L395.7 239.5 L396.6 239.2 L397.4 238.9 L398.2 238.5 L399.1 238.2 L399.9 237.8 L400.7 237.4 L401.5 237.0 L402.3 236.7 L403.2 236.3 L404.0 235.9 L404.8 235.5 L405.6 235.1 L406.4 234.6 L407.2 234.2 L408.0 233.8 L408.8 233.3 L409.5 232.9 L410.3 232.4 L411.1 232.0 L411.9 231.5 L412.6 231.0 L413.4 230.5 L414.2 230.1 L414.9 229.6 L415.7 229.1 L416.4 228.6 L417.2 228.0 L417.9 227.5 L418.6 227.0 L419.4 226.5 L420.1 225.9 L420.8 225.4 L421.5 224.8 L422.2 224.3 L422.9 223.7 L423.6 223.1 L424.3 222.5 L425.0 222.0 L425.7 221.4 L426.4 220.8 L427.1 220.2 L427.7 219.6 L428.4 218.9 L429.1 218.3 L429.7 217.7 L430.4 217.1 L431.0 216.4 L431.6 215.7 L432.2 215.0 L432.8 214.4 L433.4 213.7 L434.0 213.0 L434.5 212.3 L435.1 211.6 L435.7 210.9 L436.2 210.2 L436.8 209.5 L437.3 208.7 L437.9 208.0 L438.4 207.3 L438.9 206.5 L439.4 205.8 L439.9 205.1 L440.4 204.3 L440.9 203.6 L441.4 202.8 L441.9 202.1 L442.4 201.3 L442.9 200.5 L443.3 199.8 L443.8 199.0 L444.2 198.2 L444.7 197.4 L445.1 196.6 L445.5 195.9 L446.0 195.1 L446.4 194.3 L446.8 193.5 L447.2 192.7 L447.6 191.9 L448.0 191.1 L448.4 190.2 L448.7 189.4 L449.1 188.6 L449.5 187.8 L449.8 187.0 L450.1 186.1 L450.5 185.3 L450.8 184.5 L451.1 183.7 L451.4 182.8 L451.7 182.0 L452.0 181.1 L452.3 180.3 L452.6 179.5 L452.9 178.6 L453.2 177.8 L453.4 176.9 L453.7 176.1 L453.9 175.2 L454.2 174.3 L454.4 173.5 L454.6 172.6 L454.8 171.8 L455.0 170.9 L455.3 170.0 L455.4 169.2 L455.6 168.3 L455.8 167.4 L456.0 166.6 L456.1 165.7 L456.3 164.8 L456.4 163.9 L456.6 163.1 L456.7 162.2 L456.8 161.3 L457.0 160.4 L457.1 159.5 L457.2 158.7 L457.3 157.8 L457.3 156.9 L457.4 156.0 L457.5 155.1 L457.6 154.3 L457.6 153.4 L457.7 152.5 L457.7 151.6 L457.7 150.7 L457.7 149.9 L457.8 149.0 L457.8 148.1 L457.8 147.2 L457.8 146.3 L457.8 145.5 L457.7 144.6 L457.7 143.7 L457.7 142.8 L457.8 141.9 L457.8 141.1 L457.8 140.2 L457.8 139.3 L457.8 138.4 L457.7 137.5 L457.7 136.7 L457.7 135.8 L457.6 134.9 L457.6 134.0 L457.5 133.1 L457.5 132.3 L457.4 131.4 L457.3 130.5 L457.2 129.6 L457.1 128.7 L457.0 127.9 L456.9 127.0 L456.8 126.1 L456.7 125.2 L456.6 124.3 L456.4 123.5 L456.3 122.6 L456.1 121.7 L455.9 120.9 L455.8 120.0 L455.6 119.1 L455.4 118.2 L455.2 117.4 L455.0 116.5 L454.8 115.7 L454.6 114.8 L454.4 113.9 L454.1 113.1 L453.9 112.2 L453.6 111.4 L453.4 110.5 L453.1 109.7 L452.9 108.8 L452.6 108.0 L452.3 107.1 L452.0 106.3 L451.7 105.4 L451.4 104.6 L451.1 103.8 L450.8 102.9 L450.4 102.1 L450.1 101.3 L449.8 100.4 L449.4 99.6 L449.0 98.8 L448.7 98.0 L448.3 97.2 L447.9 96.4 L447.5 95.6 L447.1 94.8 L446.7 94.0 L446.3 93.2 L445.9 92.4 L445.5 91.6 L445.1 90.8 L444.6 90.0 L444.2 89.2 L443.7 88.4 L443.3 87.7 L442.8 86.9 L442.3 86.1 L441.9 85.4 L441.4 84.6 L440.9 83.9 L440.4 83.1 L439.9 82.4 L439.4 81.6 L438.8 80.9 L438.3 80.2 L437.8 79.4 L437.2 78.7 L436.7 78.0 L436.1 77.3 L435.6 76.6 L435.0 75.9 L434.5 75.2 L433.9 74.5 L433.3 73.8 L432.7 73.1 L432.1 72.4 L431.5 71.7 L430.9 71.1 L430.3 70.4 L429.6 69.8 L429.0 69.2 L428.3 68.6 L427.6 68.0 L427.0 67.4 L426.3 66.8 L425.6 66.2 L424.9 65.6 L424.2 65.0 L423.5 64.5 L422.8 63.9 L422.1 63.3 L421.4 62.8 L420.6 62.2 L419.9 61.7 L419.2 61.2 L418.4 60.7 L417.7 60.1 L417.0 59.6 L416.2 59.1 L415.5 58.6 L414.7 58.1 L413.9 57.7 L413.2 57.2 L412.4 56.7 L411.6 56.3 L410.9 55.8 L410.1 55.3 L409.3 54.9 L408.5 54.5 L407.7 54.0 L406.9 53.6 L406.1 53.2 L405.3 52.8 L404.5 52.4 L403.7 52.0 L402.9 51.6 L402.1 51.2 L401.3 50.9 L400.5 50.5 L399.6 50.1 L398.8 49.8 L398.0 49.5 L397.1 49.1 L396.3 48.8 L395.5 48.5 L394.6 48.2 L393.8 47.9 L392.9 47.6 L392.1 47.3 L391.2 47.0 L390.4 46.7 L389.5 46.4 L388.7 46.2 L387.8 45.9 L387.0 45.7 L386.1 45.4 L385.2 45.2 L384.4 45.0 L383.5 44.8 L382.6 44.6 L381.8 44.4 L380.9 44.2 L380.0 44.0 L379.1 43.8 L378.3 43.6 L377.4 43.5 L376.5 43.3 L375.6 43.2 L374.7 43.0 L373.9 42.9 L373.0 42.8 L372.1 42.7 L371.2 42.6 L370.3 42.5 L369.4 42.4 L368.6 42.3 L367.7 42.2 L366.8 42.1 L365.9 42.1 L365.0 42.0 L364.1 42.0 L363.2 41.9 L362.3 41.9 L361.4 41.9 L360.6 41.9 L359.7 41.9 L358.8 41.9 L357.9 41.9 L357.0 41.9 L356.1 41.9 L355.2 42.0 L354.3 42.1 L353.5 42.1 L352.6 42.2 L351.7 42.3 L350.8 42.4 L349.9 42.5 L349.0 42.6 L348.2 42.7 L347.3 42.9 L346.4 43.0 L345.5 43.1 L344.7 43.3 L343.8 43.4 L342.9 43.6 L342.1 43.8 L341.2 43.9 L340.3 44.1 L339.5 44.3 L338.6 44.5 L337.8 44.7 L336.9 44.9 L336.1 45.2 L335.2 45.4 L334.4 45.6 L333.5 45.9 L332.7 46.1 L331.8 46.4 L331.0 46.7 L330.2 46.9 L329.3 47.2 L328.5 47.5 L327.7 47.8 L326.9 48.1 L326.0 48.4 L325.2 48.7 L324.4 49.0 L323.6 49.4 L322.8 49.7 L322.0 50.1 L321.2 50.4 L320.4 50.8 L319.6 51.1 L318.8 51.5 L318.0 51.9 L317.2 52.3 L316.5 52.6 L315.7 53.0 L314.9 53.5 L314.1 53.9 L313.4 54.3 L312.6 54.7 L311.9 55.1 L311.1 55.6 L310.4 56.0 L309.6 56.5 L308.9 56.9 L308.2 57.4 L307.4 57.8 L306.7 58.3 L306.0 58.8 L305.3 59.3 L304.6 59.8 L303.9 60.3 L303.2 60.8 L302.5 61.3 L301.8 61.8 L301.1 62.3 L300.4 62.9 L299.7 63.4 L299.0 63.9 L298.4 64.5 L297.7 65.0 L297.1 65.6 L296.4 66.1 L295.8 66.7 L295.1 67.3 L294.5 67.9 L293.8 68.4 L293.2 69.0 L292.6 69.6 L292.0 70.2 L291.4 70.8 L290.8 71.4 L290.2 72.0 L289.6 72.7 L289.0 73.3 L288.4 73.9 L287.8 74.5 L287.3 75.2 L286.7 75.8 L286.2 76.5 L285.7 77.2 L285.1 77.8 L284.6 78.5 L284.1 79.2 L283.6 79.9 L283.1 80.5 L282.6 81.2 L282.1 81.9 L281.6 82.6 L281.1 83.3 L280.6 84.0 L280.1 84.7 L279.7 85.4 L279.2 86.2 L278.8 86.9 L278.3 87.6 L277.9 88.3 L277.5 89.0 L277.0 89.8 L276.6 90.5 L276.2 91.2 L275.8 92.0 L275.4 92.7 L275.0 93.5 L274.7 94.2 L274.3 95.0 L273.9 95.7 L273.5 96.5 L273.2 97.2 L272.8 98.0 L272.5 98.8 L272.2 99.5 L271.8 100.3 L271.5 101.1 L271.2 101.9 L270.9 102.6 L270.6 103.4 L270.3 104.2 L270.0 105.0 L269.8 105.8 L269.5 106.6 L269.2 107.3 L269.0 108.1 L268.7 108.9 L268.5 109.7 L268.2 110.5 L268.0 111.3 L267.8 112.1 L267.6 112.9 L267.4 113.7 L267.2 114.5 L267.0 115.3 L266.8 116.1 L266.6 116.9 L266.4 117.7 L266.3 118.5 L266.1 119.3 L266.0 120.2 L265.8 121.0 L265.7 121.8 L265.6 122.6 L265.4 123.4 L265.3 124.2 L265.2 125.0 L265.1 125.8 L265.0 126.7 L265.0 127.5 L264.9 128.3 L264.8 129.1 L264.7 129.9 L264.7 130.7 L264.6 131.5 L264.6 132.4 L264.6 133.2 L264.5 134.0 L264.5 134.8 L264.5 135.6 L264.5 136.4 L264.5 137.2 L264.5 138.0 L264.5 138.9 L264.5 139.7 L264.6 140.5 L264.6 141.3 L264.7 142.1 L264.7 142.9 L264.8 143.7 L264.8 144.5 L264.9 145.3 L265.0 146.1 L265.1 146.9 L265.2 147.7 L265.3 148.5 L265.4 149.3 L265.5 150.1 L265.6 150.9 L265.7 151.7 L265.9 152.5 L266.0 153.3 L266.2 154.0 L266.3 154.8 L266.5 155.6 L262.0 155.7 L259.9 153.4 L257.3 154.0 Z" fill="#10b5a8"/>
<path d="M523.3 149.1 L523.1 148.3 L523.0 147.4 L523.0 146.5 L522.9 145.6 L522.8 144.7 L522.7 143.8 L522.7 142.9 L522.6 142.0 L522.6 141.1 L522.5 140.2 L522.5 139.3 L522.5 138.4 L522.4 137.5 L522.4 136.6 L522.4 135.7 L522.4 134.8 L522.5 133.9 L522.5 133.0 L522.5 132.1 L522.6 131.2 L522.6 130.3 L522.7 129.4 L522.7 128.5 L522.8 127.6 L522.9 126.7 L523.0 125.8 L523.1 124.9 L523.2 124.0 L523.3 123.1 L523.4 122.2 L523.5 121.3 L523.7 120.4 L523.8 119.5 L524.0 118.6 L524.1 117.7 L524.3 116.8 L524.5 115.9 L524.6 115.0 L524.8 114.1 L525.0 113.2 L525.2 112.3 L525.4 111.5 L525.7 110.6 L525.9 109.7 L526.1 108.8 L526.4 107.9 L526.6 107.1 L526.9 106.2 L527.2 105.3 L527.4 104.4 L527.7 103.6 L528.0 102.7 L528.3 101.8 L528.6 101.0 L528.9 100.1 L529.2 99.2 L529.6 98.4 L529.9 97.5 L530.3 96.7 L530.6 95.8 L531.0 95.0 L531.3 94.2 L531.7 93.3 L532.1 92.5 L532.5 91.6 L532.9 90.8 L533.3 90.0 L533.7 89.2 L534.1 88.3 L534.5 87.5 L535.0 86.7 L535.4 85.9 L535.9 85.1 L536.3 84.3 L536.8 83.5 L537.3 82.7 L537.7 81.9 L538.2 81.1 L538.7 80.3 L539.2 79.6 L539.7 78.8 L540.2 78.0 L540.8 77.2 L541.3 76.5 L541.8 75.7 L542.4 75.0 L542.9 74.2 L543.5 73.5 L544.0 72.7 L544.6 72.0 L545.2 71.3 L545.7 70.5 L546.3 69.8 L546.9 69.1 L547.5 68.4 L548.1 67.7 L548.7 67.0 L549.4 66.3 L550.0 65.6 L550.6 64.9 L551.3 64.2 L551.9 63.6 L552.6 62.9 L553.2 62.3 L553.9 61.6 L554.6 61.0 L555.3 60.3 L556.0 59.7 L556.7 59.1 L557.4 58.4 L558.1 57.8 L558.8 57.2 L559.5 56.6 L560.2 56.0 L560.9 55.4 L561.7 54.9 L562.4 54.3 L563.2 53.7 L563.9 53.1 L564.7 52.6 L565.4 52.0 L566.2 51.5 L567.0 50.9 L567.7 50.4 L568.5 49.9 L569.3 49.4 L570.1 48.9 L570.9 48.4 L571.7 47.9 L572.5 47.4 L573.3 46.9 L574.1 46.4 L574.9 45.9 L575.7 45.5 L576.5 45.0 L577.4 44.6 L578.2 44.1 L579.0 43.7 L579.9 43.3 L580.7 42.8 L581.6 42.4 L582.4 42.0 L583.3 41.6 L584.1 41.2 L585.0 40.8 L585.9 40.5 L586.7 40.1 L587.6 39.7 L588.5 39.4 L589.4 39.0 L590.2 38.7 L591.1 38.4 L592.0 38.0 L592.9 37.7 L593.8 37.4 L594.7 37.1 L595.6 36.8 L596.5 36.5 L597.4 36.3 L598.3 36.0 L599.2 35.7 L600.1 35.5 L601.1 35.2 L602.0 35.0 L602.9 34.8 L603.8 34.5 L604.7 34.3 L605.7 34.1 L606.6 33.9 L607.5 33.7 L608.5 33.6 L609.4 33.4 L610.3 33.2 L611.3 33.1 L612.2 32.9 L613.2 32.8 L614.1 32.6 L615.0 32.5 L616.0 32.4 L616.9 32.3 L617.9 32.2 L618.8 32.1 L619.8 32.0 L620.7 31.9 L621.7 31.9 L622.6 31.8 L623.6 31.8 L624.5 31.7 L625.5 31.7 L626.5 31.7 L627.4 31.7 L628.4 31.7 L629.3 31.7 L630.3 31.7 L631.2 31.7 L632.2 31.8 L633.1 31.8 L634.1 31.9 L635.0 31.9 L636.0 32.0 L637.0 32.1 L637.9 32.2 L638.9 32.3 L639.8 32.4 L640.8 32.5 L641.7 32.6 L642.7 32.7 L643.6 32.9 L644.6 33.0 L645.5 33.2 L646.4 33.3 L647.4 33.5 L648.3 33.7 L649.3 33.9 L650.2 34.1 L651.1 34.3 L652.1 34.5 L653.0 34.7 L653.9 34.9 L654.9 35.2 L655.8 35.4 L656.7 35.7 L657.7 35.9 L658.6 36.2 L659.5 36.5 L660.4 36.7 L661.3 37.0 L662.2 37.3 L663.2 37.7 L664.1 38.0 L665.0 38.3 L665.9 38.6 L666.8 39.0 L667.7 39.3 L668.6 39.7 L669.4 40.0 L670.3 40.4 L671.2 40.8 L672.1 41.2 L673.0 41.6 L673.9 42.0 L674.7 42.4 L675.6 42.8 L676.5 43.2 L677.3 43.7 L678.2 44.1 L679.0 44.5 L679.9 45.0 L680.7 45.5 L681.6 45.9 L682.4 46.4 L683.2 46.9 L684.1 47.4 L684.9 47.9 L685.7 48.4 L686.5 48.9 L687.3 49.4 L688.1 50.0 L688.9 50.5 L689.7 51.0 L690.5 51.6 L691.3 52.1 L692.1 52.7 L692.9 53.3 L693.7 53.9 L694.4 54.4 L695.2 55.0 L696.0 55.6 L696.7 56.2 L697.5 56.9 L698.2 57.5 L698.9 58.1 L699.7 58.7 L700.4 59.4 L701.1 60.0 L701.8 60.7 L702.5 61.3 L703.3 62.0 L704.0 62.6 L704.6 63.4 L705.3 64.1 L705.9 64.8 L706.5 65.5 L707.2 66.3 L707.8 67.0 L708.4 67.7 L709.0 68.5 L709.6 69.3 L710.2 70.0 L710.8 70.8 L711.4 71.5 L712.0 72.3 L712.5 73.1 L713.1 73.9 L713.6 74.7 L714.2 75.5 L714.7 76.3 L715.3 77.1 L715.8 77.9 L716.3 78.7 L716.8 79.5 L717.3 80.3 L717.8 81.1 L718.3 82.0 L718.8 82.8 L719.3 83.6 L719.7 84.5 L720.2 85.3 L720.6 86.2 L721.1 87.0 L721.5 87.9 L722.0 88.7 L722.4 89.6 L722.8 90.5 L723.2 91.3 L723.6 92.2 L724.0 93.1 L724.4 93.9 L724.7 94.8 L725.1 95.7 L725.5 96.6 L725.8 97.5 L726.2 98.4 L726.5 99.3 L726.8 100.2 L727.2 101.1 L727.5 102.0 L727.8 102.9 L728.1 103.8 L728.4 104.7 L728.6 105.6 L728.9 106.5 L729.2 107.4 L729.4 108.3 L729.7 109.3 L729.9 110.2 L730.1 111.1 L730.4 112.0 L730.6 112.9 L730.8 113.9 L731.0 114.8 L731.2 115.7 L731.4 116.7 L731.5 117.6 L731.7 118.5 L731.9 119.5 L732.0 120.4 L732.1 121.3 L732.3 122.3 L732.4 123.2 L732.5 124.2 L732.6 125.1 L732.7 126.0 L732.8 127.0 L732.9 127.9 L733.0 128.9 L733.0 129.8 L733.1 130.7 L733.1 131.7 L733.2 132.6 L733.2 133.6 L733.3 134.5 L733.3 135.5 L733.3 136.4 L733.3 137.3 L733.3 138.3 L733.3 139.2 L733.2 140.2 L733.2 141.1 L733.2 142.0 L733.2 143.0 L733.2 143.9 L733.2 144.9 L733.2 145.8 L733.2 146.7 L733.2 147.7 L733.2 148.6 L733.1 149.6 L733.1 150.5 L733.0 151.5 L732.9 152.4 L732.9 153.3 L732.8 154.3 L732.7 155.2 L732.6 156.2 L732.5 157.1 L732.4 158.0 L732.3 159.0 L732.1 159.9 L732.0 160.8 L731.8 161.8 L731.7 162.7 L731.5 163.6 L731.3 164.6 L731.2 165.5 L731.0 166.4 L730.8 167.3 L730.6 168.3 L730.4 169.2 L730.1 170.1 L729.9 171.0 L729.7 172.0 L729.4 172.9 L729.2 173.8 L728.9 174.7 L728.6 175.6 L728.4 176.5 L728.1 177.4 L727.8 178.3 L727.5 179.2 L727.2 180.1 L726.8 181.0 L726.5 181.9 L726.2 182.8 L725.8 183.7 L725.5 184.6 L725.1 185.5 L724.8 186.3 L724.4 187.2 L724.0 188.1 L723.6 189.0 L723.2 189.8 L722.8 190.7 L722.4 191.5 L722.0 192.4 L721.6 193.3 L721.1 194.1 L720.7 195.0 L720.2 195.8 L719.8 196.6 L719.3 197.5 L718.9 198.3 L718.4 199.1 L717.9 200.0 L717.4 200.8 L716.9 201.6 L716.4 202.4 L715.9 203.2 L715.3 204.0 L714.8 204.8 L714.3 205.6 L713.7 206.4 L713.2 207.2 L712.6 208.0 L712.1 208.7 L711.5 209.5 L710.9 210.3 L710.3 211.0 L709.7 211.8 L709.1 212.5 L708.5 213.3 L707.9 214.0 L707.3 214.8 L706.7 215.5 L706.0 216.2 L705.4 216.9 L704.8 217.6 L704.1 218.4 L703.5 219.1 L702.8 219.7 L702.1 220.4 L701.3 221.0 L700.6 221.7 L699.9 222.3 L699.2 222.9 L698.5 223.6 L697.7 224.2 L697.0 224.8 L696.2 225.4 L695.5 226.0 L694.7 226.6 L694.0 227.2 L693.2 227.8 L692.4 228.3 L691.7 228.9 L690.9 229.4 L690.1 230.0 L689.3 230.5 L688.5 231.1 L687.7 231.6 L686.9 232.1 L686.1 232.6 L685.3 233.1 L684.5 233.7 L683.6 234.1 L682.8 234.6 L682.0 235.1 L681.2 235.6 L680.3 236.0 L679.5 236.5 L678.6 237.0 L677.8 237.4 L676.9 237.8 L676.1 238.3 L675.2 238.7 L674.4 239.1 L673.5 239.5 L672.6 239.9 L671.7 240.3 L670.9 240.7 L670.0 241.0 L669.1 241.4 L668.2 241.8 L667.3 242.1 L666.4 242.4 L665.6 242.8 L664.7 243.1 L663.8 243.4 L662.9 243.7 L662.0 244.0 L661.0 244.3 L660.1 244.6 L659.2 244.9 L658.3 245.2 L657.4 245.4 L656.5 245.7 L655.6 245.9 L654.6 246.2 L653.7 246.4 L652.8 246.6 L651.9 246.8 L650.9 247.0 L650.0 247.2 L649.1 247.4 L648.1 247.6 L647.2 247.8 L646.3 248.0 L645.3 248.1 L644.4 248.3 L643.5 248.4 L642.5 248.5 L641.6 248.7 L640.6 248.8 L639.7 248.9 L638.7 249.0 L637.8 249.1 L636.9 249.2 L635.9 249.2 L635.0 249.3 L634.0 249.4 L633.1 249.4 L632.1 249.4 L631.2 249.5 L630.2 249.5 L629.3 249.5 L628.3 249.5 L627.4 249.5 L626.4 249.5 L625.5 249.5 L624.6 249.5 L623.6 249.6 L622.7 249.6 L621.7 249.6 L620.8 249.6 L619.8 249.6 L618.9 249.6 L617.9 249.6 L617.0 249.6 L616.0 249.6 L615.1 249.5 L614.1 249.5 L613.2 249.4 L612.2 249.4 L611.3 249.3 L610.3 249.2 L609.4 249.1 L608.4 249.0 L607.5 248.9 L606.5 248.8 L605.6 248.7 L604.6 248.6 L603.7 248.4 L602.7 248.3 L601.8 248.1 L600.8 248.0 L599.9 247.8 L598.9 247.6 L598.0 247.4 L597.1 247.2 L596.1 247.0 L595.2 246.8 L594.2 246.6 L593.3 246.4 L592.4 246.1 L591.5 245.9 L590.5 245.6 L589.6 245.4 L588.7 245.1 L587.7 244.8 L586.8 244.5 L585.9 244.2 L585.0 243.9 L584.1 243.6 L583.2 243.3 L582.3 243.0 L581.3 242.6 L580.4 242.3 L579.5 241.9 L578.6 241.6 L577.7 241.2 L576.9 240.8 L576.0 240.5 L575.1 240.1 L574.2 239.7 L573.3 239.3 L572.4 238.8 L571.6 238.4 L570.7 238.0 L569.8 237.5 L569.0 237.1 L568.1 236.6 L567.2 236.2 L566.4 235.7 L565.5 235.2 L564.7 234.7 L563.8 234.3 L563.0 233.8 L562.2 233.2 L561.3 232.7 L560.5 232.2 L559.7 231.7 L558.9 231.1 L558.1 230.6 L557.3 230.0 L556.4 229.5 L555.6 228.9 L554.9 228.3 L554.1 227.8 L553.3 227.2 L552.5 226.6 L551.7 226.0 L551.0 225.4 L550.2 224.7 L549.4 224.1 L548.7 223.5 L547.9 222.9 L547.2 222.2 L546.4 221.6 L545.7 220.9 L545.0 220.2 L544.3 219.5 L543.6 218.9 L542.9 218.2 L542.2 217.5 L541.5 216.7 L540.8 216.0 L540.1 215.3 L539.5 214.6 L538.8 213.9 L538.1 213.1 L537.5 212.4 L536.8 211.6 L536.2 210.9 L535.6 210.1 L534.9 209.3 L534.3 208.6 L533.7 207.8 L533.1 207.0 L532.5 206.2 L531.9 205.4 L531.3 204.6 L530.7 203.8 L530.2 203.0 L529.6 202.2 L529.0 201.4 L528.5 200.5 L527.9 199.7 L527.4 198.9 L526.9 198.0 L526.4 197.2 L525.8 196.3 L525.3 195.5 L524.8 194.6 L524.3 193.8 L523.9 192.9 L523.4 192.0 L522.9 191.1 L522.4 190.3 L522.0 189.4 L521.5 188.5 L521.1 187.6 L520.7 186.7 L520.2 185.8 L519.8 184.9 L519.4 184.0 L519.0 183.1 L518.6 182.1 L518.2 181.2 L517.8 180.3 L517.5 179.3 L517.2 178.4 L516.8 177.5 L516.5 176.5 L516.2 175.6 L515.9 174.6 L515.6 173.7 L515.3 172.7 L515.0 171.8 L514.7 170.8 L514.4 169.8 L514.2 168.9 L513.9 167.9 L513.7 166.9 L513.4 165.9 L513.2 165.0 L513.0 164.0 L512.8 163.0 L512.6 162.0 L512.4 161.0 L512.2 160.1 L512.1 159.1 L511.9 158.1 L511.7 157.1 L511.6 156.1 L511.5 155.1 L511.3 154.1 L511.2 153.1 L511.1 152.1 L511.0 151.1 L510.9 150.1 L510.8 149.1 L510.8 148.1 L510.7 147.1 L510.7 146.1 L510.6 145.1 L510.6 144.1 L510.5 143.1 L510.5 142.1 L510.5 141.1 L510.5 140.1 L510.5 139.1 L510.5 138.1 L510.6 137.1 L510.6 136.1 L510.6 135.1 L510.7 134.1 L510.7 133.1 L510.8 132.1 L512.2 131.0 L513.3 132.3 L513.3 133.3 L513.3 134.2 L513.2 135.2 L513.2 136.2 L513.2 137.2 L513.2 138.2 L513.2 139.1 L513.3 140.1 L513.3 141.1 L513.3 142.1 L513.4 143.1 L513.4 144.0 L513.5 145.0 L513.6 146.0 L513.6 147.0 L513.7 147.9 L513.8 148.9 L513.9 149.9 L514.0 150.9 L514.2 151.8 L514.3 152.8 L514.4 153.8 L514.6 154.7 L514.7 155.7 L514.9 156.6 L515.1 157.6 L515.3 158.6 L515.4 159.5 L515.6 160.5 L515.8 161.4 L516.0 162.4 L516.3 163.3 L516.5 164.3 L516.7 165.2 L517.0 166.2 L517.2 167.1 L517.5 168.0 L517.7 169.0 L518.0 169.9 L518.3 170.8 L518.6 171.8 L518.9 172.7 L519.2 173.6 L519.5 174.5 L519.8 175.4 L520.1 176.4 L520.5 177.3 L520.8 178.2 L521.2 179.1 L521.5 180.0 L521.9 180.9 L522.3 181.7 L522.7 182.6 L523.1 183.5 L523.5 184.4 L524.0 185.2 L524.4 186.1 L524.8 187.0 L525.3 187.8 L525.7 188.7 L526.2 189.5 L526.7 190.4 L527.1 191.2 L527.6 192.1 L528.1 192.9 L528.6 193.7 L529.1 194.5 L529.6 195.3 L530.1 196.2 L530.7 197.0 L531.2 197.8 L531.7 198.6 L532.3 199.4 L532.8 200.1 L533.4 200.9 L533.9 201.7 L534.5 202.5 L535.1 203.2 L535.7 204.0 L536.3 204.8 L536.9 205.5 L537.5 206.2 L538.1 207.0 L538.7 207.7 L539.3 208.4 L539.9 209.2 L540.6 209.9 L541.2 210.6 L541.8 211.3 L542.5 212.0 L543.1 212.7 L543.8 213.4 L544.5 214.1 L545.2 214.7 L545.8 215.4 L546.5 216.1 L547.2 216.7 L547.9 217.4 L548.6 218.0 L549.3 218.6 L550.0 219.2 L550.8 219.8 L551.5 220.4 L552.2 221.0 L553.0 221.6 L553.7 222.2 L554.5 222.8 L555.2 223.4 L556.0 223.9 L556.8 224.5 L557.5 225.0 L558.3 225.6 L559.1 226.1 L559.9 226.6 L560.7 227.1 L561.5 227.6 L562.3 228.2 L563.1 228.6 L563.9 229.1 L564.7 229.6 L565.5 230.1 L566.3 230.6 L567.1 231.0 L567.9 231.5 L568.8 231.9 L569.6 232.4 L570.4 232.8 L571.2 233.2 L572.1 233.6 L572.9 234.0 L573.8 234.4 L574.6 234.8 L575.5 235.2 L576.3 235.6 L577.2 235.9 L578.0 236.3 L578.9 236.7 L579.8 237.0 L580.6 237.3 L581.5 237.7 L582.4 238.0 L583.2 238.3 L584.1 238.6 L585.0 238.9 L585.9 239.2 L586.7 239.5 L587.6 239.8 L588.5 240.0 L589.4 240.3 L590.3 240.5 L591.2 240.8 L592.1 241.0 L593.0 241.2 L593.9 241.5 L594.8 241.7 L595.6 241.9 L596.5 242.1 L597.4 242.3 L598.3 242.4 L599.2 242.6 L600.1 242.8 L601.1 242.9 L602.0 243.1 L602.9 243.2 L603.8 243.3 L604.7 243.5 L605.6 243.6 L606.5 243.7 L607.4 243.8 L608.3 243.9 L609.2 244.0 L610.1 244.0 L611.0 244.1 L611.9 244.2 L612.8 244.2 L613.7 244.3 L614.7 244.3 L615.6 244.3 L616.5 244.3 L617.4 244.4 L618.3 244.4 L619.2 244.4 L620.1 244.3 L621.0 244.3 L621.9 244.3 L622.8 244.3 L623.7 244.2 L624.6 244.2 L625.5 244.1 L626.4 244.1 L627.3 244.1 L628.2 244.1 L629.1 244.1 L630.0 244.0 L630.9 244.0 L631.8 244.0 L632.7 243.9 L633.6 243.9 L634.5 243.8 L635.4 243.7 L636.3 243.6 L637.2 243.5 L638.1 243.4 L639.0 243.3 L639.9 243.2 L640.7 243.1 L641.6 243.0 L642.5 242.8 L643.4 242.7 L644.3 242.5 L645.2 242.4 L646.1 242.2 L647.0 242.0 L647.8 241.9 L648.7 241.7 L649.6 241.5 L650.5 241.3 L651.3 241.1 L652.2 240.8 L653.1 240.6 L654.0 240.4 L654.8 240.1 L655.7 239.9 L656.6 239.6 L657.4 239.3 L658.3 239.1 L659.1 238.8 L660.0 238.5 L660.8 238.2 L661.7 237.9 L662.5 237.6 L663.4 237.3 L664.2 236.9 L665.1 236.6 L665.9 236.3 L666.7 235.9 L667.6 235.6 L668.4 235.2 L669.2 234.8 L670.0 234.4 L670.8 234.1 L671.7 233.7 L672.5 233.3 L673.3 232.9 L674.1 232.5 L674.9 232.0 L675.7 231.6 L676.5 231.2 L677.2 230.7 L678.0 230.3 L678.8 229.8 L679.6 229.4 L680.4 228.9 L681.1 228.4 L681.9 227.9 L682.7 227.5 L683.4 227.0 L684.2 226.5 L684.9 226.0 L685.7 225.4 L686.4 224.9 L687.1 224.4 L687.9 223.9 L688.6 223.3 L689.3 222.8 L690.0 222.2 L690.7 221.7 L691.4 221.1 L692.1 220.5 L692.8 219.9 L693.5 219.4 L694.2 218.8 L694.9 218.2 L695.6 217.6 L696.2 217.0 L696.9 216.3 L697.6 215.7 L698.2 215.1 L698.9 214.5 L699.5 213.8 L700.1 213.1 L700.7 212.4 L701.3 211.8 L701.9 211.1 L702.5 210.4 L703.0 209.7 L703.6 209.0 L704.2 208.3 L704.7 207.6 L705.3 206.9 L705.8 206.1 L706.4 205.4 L706.9 204.7 L707.4 203.9 L707.9 203.2 L708.4 202.5 L708.9 201.7 L709.4 201.0 L709.9 200.2 L710.4 199.5 L710.9 198.7 L711.4 197.9 L711.8 197.2 L712.3 196.4 L712.7 195.6 L713.2 194.8 L713.6 194.0 L714.0 193.3 L714.5 192.5 L714.9 191.7 L715.3 190.9 L715.7 190.1 L716.1 189.3 L716.5 188.5 L716.9 187.6 L717.2 186.8 L717.6 186.0 L718.0 185.2 L718.3 184.4 L718.6 183.5 L719.0 182.7 L719.3 181.9 L719.6 181.1 L719.9 180.2 L720.2 179.4 L720.5 178.5 L720.8 177.7 L721.1 176.9 L721.4 176.0 L721.7 175.2 L721.9 174.3 L722.2 173.5 L722.4 172.6 L722.7 171.7 L722.9 170.9 L723.1 170.0 L723.3 169.2 L723.5 168.3 L723.8 167.4 L723.9 166.6 L724.1 165.7 L724.3 164.8 L724.5 164.0 L724.6 163.1 L724.8 162.2 L724.9 161.3 L725.1 160.5 L725.2 159.6 L725.3 158.7 L725.5 157.8 L725.6 156.9 L725.7 156.1 L725.8 155.2 L725.8 154.3 L725.9 153.4 L726.0 152.5 L726.1 151.7 L726.1 150.8 L726.2 149.9 L726.2 149.0 L726.2 148.1 L726.2 147.3 L726.3 146.4 L726.3 145.5 L726.3 144.6 L726.3 143.7 L726.3 142.9 L726.2 142.0 L726.2 141.1 L726.2 140.2 L726.3 139.3 L726.3 138.5 L726.3 137.6 L726.3 136.7 L726.3 135.8 L726.2 134.9 L726.2 134.1 L726.2 133.2 L726.1 132.3 L726.1 131.4 L726.0 130.5 L726.0 129.7 L725.9 128.8 L725.8 127.9 L725.7 127.0 L725.6 126.1 L725.5 125.3 L725.4 124.4 L725.3 123.5 L725.2 122.6 L725.1 121.7 L724.9 120.9 L724.8 120.0 L724.6 119.1 L724.4 118.3 L724.3 117.4 L724.1 116.5 L723.9 115.6 L723.7 114.8 L723.5 113.9 L723.3 113.1 L723.1 112.2 L722.9 111.3 L722.6 110.5 L722.4 109.6 L722.1 108.8 L721.9 107.9 L721.6 107.1 L721.4 106.2 L721.1 105.4 L720.8 104.5 L720.5 103.7 L720.2 102.8 L719.9 102.0 L719.6 101.2 L719.3 100.3 L718.9 99.5 L718.6 98.7 L718.3 97.8 L717.9 97.0 L717.5 96.2 L717.2 95.4 L716.8 94.6 L716.4 93.8 L716.0 93.0 L715.6 92.2 L715.2 91.4 L714.8 90.6 L714.4 89.8 L714.0 89.0 L713.6 88.2 L713.1 87.4 L712.7 86.6 L712.2 85.8 L711.8 85.1 L711.3 84.3 L710.8 83.5 L710.4 82.8 L709.9 82.0 L709.4 81.3 L708.9 80.5 L708.4 79.8 L707.9 79.0 L707.3 78.3 L706.8 77.6 L706.3 76.8 L705.7 76.1 L705.2 75.4 L704.6 74.7 L704.1 74.0 L703.5 73.3 L703.0 72.6 L702.4 71.9 L701.8 71.2 L701.2 70.5 L700.6 69.8 L700.0 69.1 L699.4 68.5 L698.8 67.8 L698.1 67.2 L697.5 66.6 L696.8 66.0 L696.1 65.4 L695.5 64.8 L694.8 64.2 L694.1 63.6 L693.4 63.0 L692.7 62.4 L692.0 61.9 L691.3 61.3 L690.6 60.7 L689.9 60.2 L689.1 59.6 L688.4 59.1 L687.7 58.6 L686.9 58.1 L686.2 57.5 L685.5 57.0 L684.7 56.5 L684.0 56.0 L683.2 55.5 L682.4 55.1 L681.7 54.6 L680.9 54.1 L680.1 53.7 L679.4 53.2 L678.6 52.7 L677.8 52.3 L677.0 51.9 L676.2 51.4 L675.4 51.0 L674.6 50.6 L673.8 50.2 L673.0 49.8 L672.2 49.4 L671.4 49.0 L670.6 48.6 L669.8 48.3 L669.0 47.9 L668.1 47.5 L667.3 47.2 L666.5 46.9 L665.6 46.5 L664.8 46.2 L664.0 45.9 L663.1 45.6 L662.3 45.3 L661.4 45.0 L660.6 44.7 L659.7 44.4 L658.9 44.1 L658.0 43.8 L657.2 43.6 L656.3 43.3 L655.5 43.1 L654.6 42.8 L653.7 42.6 L652.9 42.4 L652.0 42.2 L651.1 42.0 L650.3 41.8 L649.4 41.6 L648.5 41.4 L647.6 41.2 L646.8 41.0 L645.9 40.9 L645.0 40.7 L644.1 40.6 L643.2 40.4 L642.4 40.3 L641.5 40.2 L640.6 40.1 L639.7 40.0 L638.8 39.9 L637.9 39.8 L637.1 39.7 L636.2 39.6 L635.3 39.5 L634.4 39.5 L633.5 39.4 L632.6 39.4 L631.7 39.3 L630.8 39.3 L629.9 39.3 L629.1 39.3 L628.2 39.3 L627.3 39.3 L626.4 39.3 L625.5 39.3 L624.6 39.3 L623.7 39.4 L622.8 39.5 L622.0 39.5 L621.1 39.6 L620.2 39.7 L619.3 39.8 L618.4 39.9 L617.5 40.0 L616.7 40.1 L615.8 40.3 L614.9 40.4 L614.0 40.5 L613.2 40.7 L612.3 40.8 L611.4 41.0 L610.6 41.2 L609.7 41.3 L608.8 41.5 L608.0 41.7 L607.1 41.9 L606.3 42.1 L605.4 42.3 L604.6 42.6 L603.7 42.8 L602.9 43.0 L602.0 43.3 L601.2 43.5 L600.3 43.8 L599.5 44.1 L598.7 44.3 L597.8 44.6 L597.0 44.9 L596.2 45.2 L595.4 45.5 L594.5 45.8 L593.7 46.1 L592.9 46.4 L592.1 46.8 L591.3 47.1 L590.5 47.5 L589.7 47.8 L588.9 48.2 L588.1 48.5 L587.3 48.9 L586.5 49.3 L585.7 49.7 L585.0 50.0 L584.2 50.4 L583.4 50.9 L582.6 51.3 L581.9 51.7 L581.1 52.1 L580.4 52.5 L579.6 53.0 L578.9 53.4 L578.1 53.9 L577.4 54.3 L576.7 54.8 L575.9 55.2 L575.2 55.7 L574.5 56.2 L573.8 56.7 L573.1 57.2 L572.4 57.7 L571.7 58.2 L571.0 58.7 L570.3 59.2 L569.6 59.7 L568.9 60.3 L568.2 60.8 L567.5 61.3 L566.9 61.9 L566.2 62.4 L565.6 63.0 L564.9 63.5 L564.3 64.1 L563.6 64.7 L563.0 65.3 L562.3 65.8 L561.7 66.4 L561.1 67.0 L560.5 67.6 L559.9 68.2 L559.3 68.8 L558.7 69.4 L558.1 70.1 L557.5 70.7 L556.9 71.3 L556.3 71.9 L555.8 72.6 L555.2 73.2 L554.7 73.9 L554.2 74.6 L553.6 75.2 L553.1 75.9 L552.6 76.6 L552.1 77.3 L551.6 77.9 L551.1 78.6 L550.6 79.3 L550.1 80.0 L549.6 80.7 L549.1 81.4 L548.6 82.1 L548.2 82.8 L547.7 83.6 L547.3 84.3 L546.8 85.0 L546.4 85.7 L546.0 86.4 L545.5 87.2 L545.1 87.9 L544.7 88.6 L544.3 89.4 L543.9 90.1 L543.5 90.9 L543.2 91.6 L542.8 92.4 L542.4 93.1 L542.0 93.9 L541.7 94.6 L541.3 95.4 L541.0 96.2 L540.7 96.9 L540.3 97.7 L540.0 98.5 L539.7 99.3 L539.4 100.0 L539.1 100.8 L538.8 101.6 L538.5 102.4 L538.3 103.2 L538.0 104.0 L537.7 104.7 L537.5 105.5 L537.2 106.3 L537.0 107.1 L536.7 107.9 L536.5 108.7 L536.3 109.5 L536.1 110.3 L535.9 111.1 L535.7 111.9 L535.5 112.7 L535.3 113.5 L535.1 114.3 L534.9 115.1 L534.8 115.9 L534.6 116.7 L534.5 117.6 L534.3 118.4 L534.2 119.2 L534.1 120.0 L533.9 120.8 L533.8 121.6 L533.7 122.4 L533.6 123.2 L533.5 124.1 L533.5 124.9 L533.4 125.7 L533.3 126.5 L533.2 127.3 L533.2 128.1 L533.1 128.9 L533.1 129.8 L533.1 130.6 L533.0 131.4 L533.0 132.2 L533.0 133.0 L533.0 133.8 L533.0 134.6 L533.0 135.4 L533.0 136.3 L533.0 137.1 L533.1 137.9 L533.1 138.7 L533.2 139.5 L533.2 140.3 L533.3 141.1 L533.3 141.9 L533.4 142.7 L533.5 143.5 L533.6 144.3 L533.7 145.1 L533.8 145.9 L533.9 146.7 L534.0 147.5 L534.1 148.3 L534.2 149.1 L534.4 149.9 L534.5 150.7 L534.7 151.4 L534.8 152.2 L535.0 153.0 L530.5 153.1 L528.4 150.8 L525.8 151.4 Z" fill="#1ae81a"/>
<path d="M727.1 313.5 L726.9 312.7 L726.8 311.8 L726.8 310.9 L726.7 310.0 L726.6 309.1 L726.5 308.2 L726.5 307.3 L726.4 306.4 L726.4 305.5 L726.3 304.6 L726.3 303.7 L726.3 302.8 L726.2 301.9 L726.2 301.0 L726.2 300.1 L726.2 299.2 L726.3 298.3 L726.3 297.4 L726.3 296.5 L726.4 295.6 L726.4 294.7 L726.5 293.8 L726.5 292.9 L726.6 292.0 L726.7 291.1 L726.8 290.2 L726.9 289.3 L727.0 288.4 L727.1 287.5 L727.2 286.6 L727.3 285.7 L727.5 284.8 L727.6 283.9 L727.8 283.0 L727.9 282.1 L728.1 281.2 L728.3 280.3 L728.4 279.4 L728.6 278.5 L728.8 277.6 L729.0 276.7 L729.2 275.9 L729.5 275.0 L729.7 274.1 L729.9 273.2 L730.2 272.3 L730.4 271.5 L730.7 270.6 L731.0 269.7 L731.2 268.8 L731.5 268.0 L731.8 267.1 L732.1 266.2 L732.4 265.4 L732.7 264.5 L733.0 263.6 L733.4 262.8 L733.7 261.9 L734.1 261.1 L734.4 260.2 L734.8 259.4 L735.1 258.6 L735.5 257.7 L735.9 256.9 L736.3 256.0 L736.7 255.2 L737.1 254.4 L737.5 253.6 L737.9 252.7 L738.3 251.9 L738.8 251.1 L739.2 250.3 L739.7 249.5 L740.1 248.7 L740.6 247.9 L741.1 247.1 L741.5 246.3 L742.0 245.5 L742.5 244.7 L743.0 244.0 L743.5 243.2 L744.0 242.4 L744.6 241.6 L745.1 240.9 L745.6 240.1 L746.2 239.4 L746.7 238.6 L747.3 237.9 L747.8 237.1 L748.4 236.4 L749.0 235.7 L749.5 234.9 L750.1 234.2 L750.7 233.5 L751.3 232.8 L751.9 232.1 L752.5 231.4 L753.2 230.7 L753.8 230.0 L754.4 229.3 L755.1 228.6 L755.7 228.0 L756.4 227.3 L757.0 226.7 L757.7 226.0 L758.4 225.4 L759.1 224.7 L759.8 224.1 L760.5 223.5 L761.2 222.8 L761.9 222.2 L762.6 221.6 L763.3 221.0 L764.0 220.4 L764.7 219.8 L765.5 219.3 L766.2 218.7 L767.0 218.1 L767.7 217.5 L768.5 217.0 L769.2 216.4 L770.0 215.9 L770.8 215.3 L771.5 214.8 L772.3 214.3 L773.1 213.8 L773.9 213.3 L774.7 212.8 L775.5 212.3 L776.3 211.8 L777.1 211.3 L777.9 210.8 L778.7 210.3 L779.5 209.9 L780.3 209.4 L781.2 209.0 L782.0 208.5 L782.8 208.1 L783.7 207.7 L784.5 207.2 L785.4 206.8 L786.2 206.4 L787.1 206.0 L787.9 205.6 L788.8 205.2 L789.7 204.9 L790.5 204.5 L791.4 204.1 L792.3 203.8 L793.2 203.4 L794.0 203.1 L794.9 202.8 L795.8 202.4 L796.7 202.1 L797.6 201.8 L798.5 201.5 L799.4 201.2 L800.3 200.9 L801.2 200.7 L802.1 200.4 L803.0 200.1 L803.9 199.9 L804.9 199.6 L805.8 199.4 L806.7 199.2 L807.6 198.9 L808.5 198.7 L809.5 198.5 L810.4 198.3 L811.3 198.1 L812.3 198.0 L813.2 197.8 L814.1 197.6 L815.1 197.5 L816.0 197.3 L817.0 197.2 L817.9 197.0 L818.8 196.9 L819.8 196.8 L820.7 196.7 L821.7 196.6 L822.6 196.5 L823.6 196.4 L824.5 196.3 L825.5 196.3 L826.4 196.2 L827.4 196.2 L828.3 196.1 L829.3 196.1 L830.3 196.1 L831.2 196.1 L832.2 196.1 L833.1 196.1 L834.1 196.1 L835.0 196.1 L836.0 196.2 L836.9 196.2 L837.9 196.3 L838.8 196.3 L839.8 196.4 L840.8 196.5 L841.7 196.6 L842.7 196.7 L843.6 196.8 L844.6 196.9 L845.5 197.0 L846.5 197.1 L847.4 197.3 L848.4 197.4 L849.3 197.6 L850.2 197.7 L851.2 197.9 L852.1 198.1 L853.1 198.3 L854.0 198.5 L854.9 198.7 L855.9 198.9 L856.8 199.1 L857.7 199.3 L858.7 199.6 L859.6 199.8 L860.5 200.1 L861.5 200.3 L862.4 200.6 L863.3 200.9 L864.2 201.1 L865.1 201.4 L866.0 201.7 L867.0 202.1 L867.9 202.4 L868.8 202.7 L869.7 203.0 L870.6 203.4 L871.5 203.7 L872.4 204.1 L873.2 204.4 L874.1 204.8 L875.0 205.2 L875.9 205.6 L876.8 206.0 L877.7 206.4 L878.5 206.8 L879.4 207.2 L880.3 207.6 L881.1 208.1 L882.0 208.5 L882.8 208.9 L883.7 209.4 L884.5 209.9 L885.4 210.3 L886.2 210.8 L887.0 211.3 L887.9 211.8 L888.7 212.3 L889.5 212.8 L890.3 213.3 L891.1 213.8 L891.9 214.4 L892.7 214.9 L893.5 215.4 L894.3 216.0 L895.1 216.5 L895.9 217.1 L896.7 217.7 L897.5 218.3 L898.2 218.8 L899.0 219.4 L899.8 220.0 L900.5 220.6 L901.3 221.3 L902.0 221.9 L902.7 222.5 L903.5 223.1 L904.2 223.8 L904.9 224.4 L905.6 225.1 L906.3 225.7 L907.1 226.4 L907.8 227.0 L908.4 227.8 L909.1 228.5 L909.7 229.2 L910.3 229.9 L911.0 230.7 L911.6 231.4 L912.2 232.1 L912.8 232.9 L913.4 233.7 L914.0 234.4 L914.6 235.2 L915.2 235.9 L915.8 236.7 L916.3 237.5 L916.9 238.3 L917.4 239.1 L918.0 239.9 L918.5 240.7 L919.1 241.5 L919.6 242.3 L920.1 243.1 L920.6 243.9 L921.1 244.7 L921.6 245.5 L922.1 246.4 L922.6 247.2 L923.1 248.0 L923.5 248.9 L924.0 249.7 L924.4 250.6 L924.9 251.4 L925.3 252.3 L925.8 253.1 L926.2 254.0 L926.6 254.9 L927.0 255.7 L927.4 256.6 L927.8 257.5 L928.2 258.3 L928.5 259.2 L928.9 260.1 L929.3 261.0 L929.6 261.9 L930.0 262.8 L930.3 263.7 L930.6 264.6 L931.0 265.5 L931.3 266.4 L931.6 267.3 L931.9 268.2 L932.2 269.1 L932.4 270.0 L932.7 270.9 L933.0 271.8 L933.2 272.7 L933.5 273.7 L933.7 274.6 L933.9 275.5 L934.2 276.4 L934.4 277.3 L934.6 278.3 L934.8 279.2 L935.0 280.1 L935.2 281.1 L935.3 282.0 L935.5 282.9 L935.7 283.9 L935.8 284.8 L935.9 285.7 L936.1 286.7 L936.2 287.6 L936.3 288.6 L936.4 289.5 L936.5 290.4 L936.6 291.4 L936.7 292.3 L936.8 293.3 L936.8 294.2 L936.9 295.1 L936.9 296.1 L937.0 297.0 L937.0 298.0 L937.1 298.9 L937.1 299.9 L937.1 300.8 L937.1 301.7 L937.1 302.7 L937.1 303.6 L937.0 304.6 L937.0 305.5 L937.0 306.4 L937.0 307.4 L937.0 308.3 L937.0 309.3 L937.0 310.2 L937.0 311.1 L937.0 312.1 L937.0 313.0 L936.9 314.0 L936.9 314.9 L936.8 315.9 L936.7 316.8 L936.7 317.7 L936.6 318.7 L936.5 319.6 L936.4 320.6 L936.3 321.5 L936.2 322.4 L936.1 323.4 L935.9 324.3 L935.8 325.2 L935.6 326.2 L935.5 327.1 L935.3 328.0 L935.1 329.0 L935.0 329.9 L934.8 330.8 L934.6 331.7 L934.4 332.7 L934.2 333.6 L933.9 334.5 L933.7 335.4 L933.5 336.4 L933.2 337.3 L933.0 338.2 L932.7 339.1 L932.4 340.0 L932.2 340.9 L931.9 341.8 L931.6 342.7 L931.3 343.6 L931.0 344.5 L930.6 345.4 L930.3 346.3 L930.0 347.2 L929.6 348.1 L929.3 349.0 L928.9 349.9 L928.6 350.7 L928.2 351.6 L927.8 352.5 L927.4 353.4 L927.0 354.2 L926.6 355.1 L926.2 355.9 L925.8 356.8 L925.4 357.7 L924.9 358.5 L924.5 359.4 L924.0 360.2 L923.6 361.0 L923.1 361.9 L922.7 362.7 L922.2 363.5 L921.7 364.4 L921.2 365.2 L920.7 366.0 L920.2 366.8 L919.7 367.6 L919.1 368.4 L918.6 369.2 L918.1 370.0 L917.5 370.8 L917.0 371.6 L916.4 372.4 L915.9 373.1 L915.3 373.9 L914.7 374.7 L914.1 375.4 L913.5 376.2 L912.9 376.9 L912.3 377.7 L911.7 378.4 L911.1 379.2 L910.5 379.9 L909.8 380.6 L909.2 381.3 L908.6 382.0 L907.9 382.8 L907.3 383.5 L906.6 384.1 L905.9 384.8 L905.1 385.4 L904.4 386.1 L903.7 386.7 L903.0 387.3 L902.3 388.0 L901.5 388.6 L900.8 389.2 L900.0 389.8 L899.3 390.4 L898.5 391.0 L897.8 391.6 L897.0 392.2 L896.2 392.7 L895.5 393.3 L894.7 393.8 L893.9 394.4 L893.1 394.9 L892.3 395.5 L891.5 396.0 L890.7 396.5 L889.9 397.0 L889.1 397.5 L888.3 398.1 L887.4 398.5 L886.6 399.0 L885.8 399.5 L885.0 400.0 L884.1 400.4 L883.3 400.9 L882.4 401.4 L881.6 401.8 L880.7 402.2 L879.9 402.7 L879.0 403.1 L878.2 403.5 L877.3 403.9 L876.4 404.3 L875.5 404.7 L874.7 405.1 L873.8 405.4 L872.9 405.8 L872.0 406.2 L871.1 406.5 L870.2 406.8 L869.4 407.2 L868.5 407.5 L867.6 407.8 L866.7 408.1 L865.8 408.4 L864.8 408.7 L863.9 409.0 L863.0 409.3 L862.1 409.6 L861.2 409.8 L860.3 410.1 L859.4 410.3 L858.4 410.6 L857.5 410.8 L856.6 411.0 L855.7 411.2 L854.7 411.4 L853.8 411.6 L852.9 411.8 L851.9 412.0 L851.0 412.2 L850.1 412.4 L849.1 412.5 L848.2 412.7 L847.3 412.8 L846.3 412.9 L845.4 413.1 L844.4 413.2 L843.5 413.3 L842.5 413.4 L841.6 413.5 L840.7 413.6 L839.7 413.6 L838.8 413.7 L837.8 413.8 L836.9 413.8 L835.9 413.8 L835.0 413.9 L834.0 413.9 L833.1 413.9 L832.1 413.9 L831.2 413.9 L830.2 413.9 L829.3 413.9 L828.4 413.9 L827.4 414.0 L826.5 414.0 L825.5 414.0 L824.6 414.0 L823.6 414.0 L822.7 414.0 L821.7 414.0 L820.8 414.0 L819.8 414.0 L818.9 413.9 L817.9 413.9 L817.0 413.8 L816.0 413.8 L815.1 413.7 L814.1 413.6 L813.2 413.5 L812.2 413.4 L811.3 413.3 L810.3 413.2 L809.4 413.1 L808.4 413.0 L807.5 412.8 L806.5 412.7 L805.6 412.5 L804.6 412.4 L803.7 412.2 L802.7 412.0 L801.8 411.8 L800.9 411.6 L799.9 411.4 L799.0 411.2 L798.0 411.0 L797.1 410.8 L796.2 410.5 L795.3 410.3 L794.3 410.0 L793.4 409.8 L792.5 409.5 L791.5 409.2 L790.6 408.9 L789.7 408.6 L788.8 408.3 L787.9 408.0 L787.0 407.7 L786.1 407.4 L785.1 407.0 L784.2 406.7 L783.3 406.3 L782.4 406.0 L781.5 405.6 L780.7 405.2 L779.8 404.9 L778.9 404.5 L778.0 404.1 L777.1 403.7 L776.2 403.2 L775.4 402.8 L774.5 402.4 L773.6 401.9 L772.8 401.5 L771.9 401.0 L771.0 400.6 L770.2 400.1 L769.3 399.6 L768.5 399.1 L767.6 398.7 L766.8 398.2 L766.0 397.6 L765.1 397.1 L764.3 396.6 L763.5 396.1 L762.7 395.5 L761.9 395.0 L761.1 394.4 L760.2 393.9 L759.4 393.3 L758.7 392.7 L757.9 392.2 L757.1 391.6 L756.3 391.0 L755.5 390.4 L754.8 389.8 L754.0 389.1 L753.2 388.5 L752.5 387.9 L751.7 387.3 L751.0 386.6 L750.2 386.0 L749.5 385.3 L748.8 384.6 L748.1 383.9 L747.4 383.3 L746.7 382.6 L746.0 381.9 L745.3 381.1 L744.6 380.4 L743.9 379.7 L743.3 379.0 L742.6 378.3 L741.9 377.5 L741.3 376.8 L740.6 376.0 L740.0 375.3 L739.4 374.5 L738.7 373.7 L738.1 373.0 L737.5 372.2 L736.9 371.4 L736.3 370.6 L735.7 369.8 L735.1 369.0 L734.5 368.2 L734.0 367.4 L733.4 366.6 L732.8 365.8 L732.3 364.9 L731.7 364.1 L731.2 363.3 L730.7 362.4 L730.2 361.6 L729.6 360.7 L729.1 359.9 L728.6 359.0 L728.1 358.2 L727.7 357.3 L727.2 356.4 L726.7 355.5 L726.2 354.7 L725.8 353.8 L725.3 352.9 L724.9 352.0 L724.5 351.1 L724.0 350.2 L723.6 349.3 L723.2 348.4 L722.8 347.5 L722.4 346.5 L722.0 345.6 L721.6 344.7 L721.3 343.7 L721.0 342.8 L720.6 341.9 L720.3 340.9 L720.0 340.0 L719.7 339.0 L719.4 338.1 L719.1 337.1 L718.8 336.2 L718.5 335.2 L718.2 334.2 L718.0 333.3 L717.7 332.3 L717.5 331.3 L717.2 330.3 L717.0 329.4 L716.8 328.4 L716.6 327.4 L716.4 326.4 L716.2 325.4 L716.0 324.5 L715.9 323.5 L715.7 322.5 L715.5 321.5 L715.4 320.5 L715.3 319.5 L715.1 318.5 L715.0 317.5 L714.9 316.5 L714.8 315.5 L714.7 314.5 L714.6 313.5 L714.6 312.5 L714.5 311.5 L714.5 310.5 L714.4 309.5 L714.4 308.5 L714.3 307.5 L714.3 306.5 L714.3 305.5 L714.3 304.5 L714.3 303.5 L714.3 302.5 L714.4 301.5 L714.4 300.5 L714.4 299.5 L714.5 298.5 L714.5 297.5 L714.6 296.5 L716.0 295.4 L717.1 296.7 L717.1 297.7 L717.1 298.6 L717.0 299.6 L717.0 300.6 L717.0 301.6 L717.0 302.6 L717.0 303.5 L717.1 304.5 L717.1 305.5 L717.1 306.5 L717.2 307.5 L717.2 308.4 L717.3 309.4 L717.4 310.4 L717.4 311.4 L717.5 312.3 L717.6 313.3 L717.7 314.3 L717.8 315.3 L718.0 316.2 L718.1 317.2 L718.2 318.2 L718.4 319.1 L718.5 320.1 L718.7 321.0 L718.9 322.0 L719.1 323.0 L719.2 323.9 L719.4 324.9 L719.6 325.8 L719.8 326.8 L720.1 327.7 L720.3 328.7 L720.5 329.6 L720.8 330.6 L721.0 331.5 L721.3 332.4 L721.5 333.4 L721.8 334.3 L722.1 335.2 L722.4 336.2 L722.7 337.1 L723.0 338.0 L723.3 338.9 L723.6 339.8 L723.9 340.8 L724.3 341.7 L724.6 342.6 L725.0 343.5 L725.3 344.4 L725.7 345.3 L726.1 346.1 L726.5 347.0 L726.9 347.9 L727.3 348.8 L727.8 349.6 L728.2 350.5 L728.6 351.4 L729.1 352.2 L729.5 353.1 L730.0 353.9 L730.5 354.8 L730.9 355.6 L731.4 356.5 L731.9 357.3 L732.4 358.1 L732.9 358.9 L733.4 359.7 L733.9 360.6 L734.5 361.4 L735.0 362.2 L735.5 363.0 L736.1 363.8 L736.6 364.5 L737.2 365.3 L737.7 366.1 L738.3 366.9 L738.9 367.6 L739.5 368.4 L740.1 369.2 L740.7 369.9 L741.3 370.6 L741.9 371.4 L742.5 372.1 L743.1 372.8 L743.7 373.6 L744.4 374.3 L745.0 375.0 L745.6 375.7 L746.3 376.4 L746.9 377.1 L747.6 377.8 L748.3 378.5 L749.0 379.1 L749.6 379.8 L750.3 380.5 L751.0 381.1 L751.7 381.8 L752.4 382.4 L753.1 383.0 L753.8 383.6 L754.6 384.2 L755.3 384.8 L756.0 385.4 L756.8 386.0 L757.5 386.6 L758.3 387.2 L759.0 387.8 L759.8 388.3 L760.6 388.9 L761.3 389.4 L762.1 390.0 L762.9 390.5 L763.7 391.0 L764.5 391.5 L765.3 392.0 L766.1 392.6 L766.9 393.0 L767.7 393.5 L768.5 394.0 L769.3 394.5 L770.1 395.0 L770.9 395.4 L771.7 395.9 L772.6 396.3 L773.4 396.8 L774.2 397.2 L775.0 397.6 L775.9 398.0 L776.7 398.4 L777.6 398.8 L778.4 399.2 L779.3 399.6 L780.1 400.0 L781.0 400.3 L781.8 400.7 L782.7 401.1 L783.6 401.4 L784.4 401.7 L785.3 402.1 L786.2 402.4 L787.0 402.7 L787.9 403.0 L788.8 403.3 L789.7 403.6 L790.5 403.9 L791.4 404.2 L792.3 404.4 L793.2 404.7 L794.1 404.9 L795.0 405.2 L795.9 405.4 L796.8 405.6 L797.7 405.9 L798.6 406.1 L799.4 406.3 L800.3 406.5 L801.2 406.7 L802.1 406.8 L803.0 407.0 L803.9 407.2 L804.9 407.3 L805.8 407.5 L806.7 407.6 L807.6 407.7 L808.5 407.9 L809.4 408.0 L810.3 408.1 L811.2 408.2 L812.1 408.3 L813.0 408.4 L813.9 408.4 L814.8 408.5 L815.7 408.6 L816.6 408.6 L817.5 408.7 L818.5 408.7 L819.4 408.7 L820.3 408.7 L821.2 408.8 L822.1 408.8 L823.0 408.8 L823.9 408.7 L824.8 408.7 L825.7 408.7 L826.6 408.7 L827.5 408.6 L828.4 408.6 L829.3 408.5 L830.2 408.5 L831.1 408.5 L832.0 408.5 L832.9 408.5 L833.8 408.4 L834.7 408.4 L835.6 408.4 L836.5 408.3 L837.4 408.3 L838.3 408.2 L839.2 408.1 L840.1 408.0 L841.0 407.9 L841.9 407.8 L842.8 407.7 L843.7 407.6 L844.5 407.5 L845.4 407.4 L846.3 407.2 L847.2 407.1 L848.1 406.9 L849.0 406.8 L849.9 406.6 L850.8 406.4 L851.6 406.3 L852.5 406.1 L853.4 405.9 L854.3 405.7 L855.1 405.5 L856.0 405.2 L856.9 405.0 L857.8 404.8 L858.6 404.5 L859.5 404.3 L860.4 404.0 L861.2 403.7 L862.1 403.5 L862.9 403.2 L863.8 402.9 L864.6 402.6 L865.5 402.3 L866.3 402.0 L867.2 401.7 L868.0 401.3 L868.9 401.0 L869.7 400.7 L870.5 400.3 L871.4 400.0 L872.2 399.6 L873.0 399.2 L873.8 398.8 L874.6 398.5 L875.5 398.1 L876.3 397.7 L877.1 397.3 L877.9 396.9 L878.7 396.4 L879.5 396.0 L880.3 395.6 L881.0 395.1 L881.8 394.7 L882.6 394.2 L883.4 393.8 L884.2 393.3 L884.9 392.8 L885.7 392.3 L886.5 391.9 L887.2 391.4 L888.0 390.9 L888.7 390.4 L889.5 389.8 L890.2 389.3 L890.9 388.8 L891.7 388.3 L892.4 387.7 L893.1 387.2 L893.8 386.6 L894.5 386.1 L895.2 385.5 L895.9 384.9 L896.6 384.3 L897.3 383.8 L898.0 383.2 L898.7 382.6 L899.4 382.0 L900.0 381.4 L900.7 380.7 L901.4 380.1 L902.0 379.5 L902.7 378.9 L903.3 378.2 L903.9 377.5 L904.5 376.8 L905.1 376.2 L905.7 375.5 L906.3 374.8 L906.8 374.1 L907.4 373.4 L908.0 372.7 L908.5 372.0 L909.1 371.3 L909.6 370.5 L910.2 369.8 L910.7 369.1 L911.2 368.3 L911.7 367.6 L912.2 366.9 L912.7 366.1 L913.2 365.4 L913.7 364.6 L914.2 363.9 L914.7 363.1 L915.2 362.3 L915.6 361.6 L916.1 360.8 L916.5 360.0 L917.0 359.2 L917.4 358.4 L917.8 357.7 L918.3 356.9 L918.7 356.1 L919.1 355.3 L919.5 354.5 L919.9 353.7 L920.3 352.9 L920.7 352.0 L921.0 351.2 L921.4 350.4 L921.8 349.6 L922.1 348.8 L922.4 347.9 L922.8 347.1 L923.1 346.3 L923.4 345.5 L923.7 344.6 L924.0 343.8 L924.3 342.9 L924.6 342.1 L924.9 341.3 L925.2 340.4 L925.5 339.6 L925.7 338.7 L926.0 337.9 L926.2 337.0 L926.5 336.1 L926.7 335.3 L926.9 334.4 L927.1 333.6 L927.3 332.7 L927.6 331.8 L927.7 331.0 L927.9 330.1 L928.1 329.2 L928.3 328.4 L928.4 327.5 L928.6 326.6 L928.7 325.7 L928.9 324.9 L929.0 324.0 L929.1 323.1 L929.3 322.2 L929.4 321.3 L929.5 320.5 L929.6 319.6 L929.6 318.7 L929.7 317.8 L929.8 316.9 L929.9 316.1 L929.9 315.2 L930.0 314.3 L930.0 313.4 L930.0 312.5 L930.0 311.7 L930.1 310.8 L930.1 309.9 L930.1 309.0 L930.1 308.1 L930.1 307.3 L930.0 306.4 L930.0 305.5 L930.0 304.6 L930.1 303.7 L930.1 302.9 L930.1 302.0 L930.1 301.1 L930.1 300.2 L930.0 299.3 L930.0 298.5 L930.0 297.6 L929.9 296.7 L929.9 295.8 L929.8 294.9 L929.8 294.1 L929.7 293.2 L929.6 292.3 L929.5 291.4 L929.4 290.5 L929.3 289.7 L929.2 288.8 L929.1 287.9 L929.0 287.0 L928.9 286.1 L928.7 285.3 L928.6 284.4 L928.4 283.5 L928.2 282.7 L928.1 281.8 L927.9 280.9 L927.7 280.0 L927.5 279.2 L927.3 278.3 L927.1 277.5 L926.9 276.6 L926.7 275.7 L926.4 274.9 L926.2 274.0 L925.9 273.2 L925.7 272.3 L925.4 271.5 L925.2 270.6 L924.9 269.8 L924.6 268.9 L924.3 268.1 L924.0 267.2 L923.7 266.4 L923.4 265.6 L923.1 264.7 L922.7 263.9 L922.4 263.1 L922.1 262.2 L921.7 261.4 L921.3 260.6 L921.0 259.8 L920.6 259.0 L920.2 258.2 L919.8 257.4 L919.4 256.6 L919.0 255.8 L918.6 255.0 L918.2 254.2 L917.8 253.4 L917.4 252.6 L916.9 251.8 L916.5 251.0 L916.0 250.2 L915.6 249.5 L915.1 248.7 L914.6 247.9 L914.2 247.2 L913.7 246.4 L913.2 245.7 L912.7 244.9 L912.2 244.2 L911.7 243.4 L911.1 242.7 L910.6 242.0 L910.1 241.2 L909.5 240.5 L909.0 239.8 L908.4 239.1 L907.9 238.4 L907.3 237.7 L906.8 237.0 L906.2 236.3 L905.6 235.6 L905.0 234.9 L904.4 234.2 L903.8 233.5 L903.2 232.9 L902.6 232.2 L901.9 231.6 L901.3 231.0 L900.6 230.4 L899.9 229.8 L899.3 229.2 L898.6 228.6 L897.9 228.0 L897.2 227.4 L896.5 226.8 L895.8 226.3 L895.1 225.7 L894.4 225.1 L893.7 224.6 L892.9 224.0 L892.2 223.5 L891.5 223.0 L890.7 222.5 L890.0 221.9 L889.3 221.4 L888.5 220.9 L887.8 220.4 L887.0 219.9 L886.2 219.5 L885.5 219.0 L884.7 218.5 L883.9 218.1 L883.2 217.6 L882.4 217.1 L881.6 216.7 L880.8 216.3 L880.0 215.8 L879.2 215.4 L878.4 215.0 L877.6 214.6 L876.8 214.2 L876.0 213.8 L875.2 213.4 L874.4 213.0 L873.6 212.7 L872.8 212.3 L871.9 211.9 L871.1 211.6 L870.3 211.3 L869.4 210.9 L868.6 210.6 L867.8 210.3 L866.9 210.0 L866.1 209.7 L865.2 209.4 L864.4 209.1 L863.5 208.8 L862.7 208.5 L861.8 208.2 L861.0 208.0 L860.1 207.7 L859.3 207.5 L858.4 207.2 L857.5 207.0 L856.7 206.8 L855.8 206.6 L854.9 206.4 L854.1 206.2 L853.2 206.0 L852.3 205.8 L851.4 205.6 L850.6 205.4 L849.7 205.3 L848.8 205.1 L847.9 205.0 L847.0 204.8 L846.2 204.7 L845.3 204.6 L844.4 204.5 L843.5 204.4 L842.6 204.3 L841.7 204.2 L840.9 204.1 L840.0 204.0 L839.1 203.9 L838.2 203.9 L837.3 203.8 L836.4 203.8 L835.5 203.7 L834.6 203.7 L833.7 203.7 L832.9 203.7 L832.0 203.7 L831.1 203.7 L830.2 203.7 L829.3 203.7 L828.4 203.7 L827.5 203.8 L826.6 203.9 L825.8 203.9 L824.9 204.0 L824.0 204.1 L823.1 204.2 L822.2 204.3 L821.3 204.4 L820.5 204.5 L819.6 204.7 L818.7 204.8 L817.8 204.9 L817.0 205.1 L816.1 205.2 L815.2 205.4 L814.4 205.6 L813.5 205.7 L812.6 205.9 L811.8 206.1 L810.9 206.3 L810.1 206.5 L809.2 206.7 L808.4 207.0 L807.5 207.2 L806.7 207.4 L805.8 207.7 L805.0 207.9 L804.1 208.2 L803.3 208.5 L802.5 208.7 L801.6 209.0 L800.8 209.3 L800.0 209.6 L799.2 209.9 L798.3 210.2 L797.5 210.5 L796.7 210.8 L795.9 211.2 L795.1 211.5 L794.3 211.9 L793.5 212.2 L792.7 212.6 L791.9 212.9 L791.1 213.3 L790.3 213.7 L789.5 214.1 L788.8 214.4 L788.0 214.8 L787.2 215.3 L786.4 215.7 L785.7 216.1 L784.9 216.5 L784.2 216.9 L783.4 217.4 L782.7 217.8 L781.9 218.3 L781.2 218.7 L780.5 219.2 L779.7 219.6 L779.0 220.1 L778.3 220.6 L777.6 221.1 L776.9 221.6 L776.2 222.1 L775.5 222.6 L774.8 223.1 L774.1 223.6 L773.4 224.1 L772.7 224.7 L772.0 225.2 L771.3 225.7 L770.7 226.3 L770.0 226.8 L769.4 227.4 L768.7 227.9 L768.1 228.5 L767.4 229.1 L766.8 229.7 L766.1 230.2 L765.5 230.8 L764.9 231.4 L764.3 232.0 L763.7 232.6 L763.1 233.2 L762.5 233.8 L761.9 234.5 L761.3 235.1 L760.7 235.7 L760.1 236.3 L759.6 237.0 L759.0 237.6 L758.5 238.3 L758.0 239.0 L757.4 239.6 L756.9 240.3 L756.4 241.0 L755.9 241.7 L755.4 242.3 L754.9 243.0 L754.4 243.7 L753.9 244.4 L753.4 245.1 L752.9 245.8 L752.4 246.5 L752.0 247.2 L751.5 248.0 L751.1 248.7 L750.6 249.4 L750.2 250.1 L749.8 250.8 L749.3 251.6 L748.9 252.3 L748.5 253.0 L748.1 253.8 L747.7 254.5 L747.3 255.3 L747.0 256.0 L746.6 256.8 L746.2 257.5 L745.8 258.3 L745.5 259.0 L745.1 259.8 L744.8 260.6 L744.5 261.3 L744.1 262.1 L743.8 262.9 L743.5 263.7 L743.2 264.4 L742.9 265.2 L742.6 266.0 L742.3 266.8 L742.1 267.6 L741.8 268.4 L741.5 269.1 L741.3 269.9 L741.0 270.7 L740.8 271.5 L740.5 272.3 L740.3 273.1 L740.1 273.9 L739.9 274.7 L739.7 275.5 L739.5 276.3 L739.3 277.1 L739.1 277.9 L738.9 278.7 L738.7 279.5 L738.6 280.3 L738.4 281.1 L738.3 282.0 L738.1 282.8 L738.0 283.6 L737.9 284.4 L737.7 285.2 L737.6 286.0 L737.5 286.8 L737.4 287.6 L737.3 288.5 L737.3 289.3 L737.2 290.1 L737.1 290.9 L737.0 291.7 L737.0 292.5 L736.9 293.3 L736.9 294.2 L736.9 295.0 L736.8 295.8 L736.8 296.6 L736.8 297.4 L736.8 298.2 L736.8 299.0 L736.8 299.8 L736.8 300.7 L736.8 301.5 L736.9 302.3 L736.9 303.1 L737.0 303.9 L737.0 304.7 L737.1 305.5 L737.1 306.3 L737.2 307.1 L737.3 307.9 L737.4 308.7 L737.5 309.5 L737.6 310.3 L737.7 311.1 L737.8 311.9 L737.9 312.7 L738.0 313.5 L738.2 314.3 L738.3 315.1 L738.5 315.8 L738.6 316.6 L738.8 317.4 L734.3 317.5 L732.2 315.2 L729.6 315.8 Z" fill="#edcc10"/>
<path d="M621.1 507.2 L621.3 506.1 L621.4 504.9 L621.5 503.8 L621.7 502.7 L621.8 501.5 L621.9 500.4 L622.0 499.3 L622.0 498.1 L622.1 497.0 L622.2 495.9 L622.2 494.7 L622.3 493.6 L622.3 492.4 L622.3 491.3 L622.3 490.1 L622.3 489.0 L622.3 487.9 L622.3 486.7 L622.2 485.6 L622.2 484.4 L622.2 483.3 L622.1 482.1 L622.0 481.0 L621.9 479.8 L621.8 478.7 L621.7 477.5 L621.6 476.4 L621.5 475.2 L621.4 474.1 L621.2 473.0 L621.1 471.8 L620.9 470.7 L620.8 469.5 L620.6 468.4 L620.4 467.2 L620.2 466.1 L620.0 465.0 L619.7 463.8 L619.5 462.7 L619.3 461.6 L619.0 460.4 L618.8 459.3 L618.5 458.2 L618.2 457.1 L617.9 455.9 L617.6 454.8 L617.3 453.7 L617.0 452.6 L616.6 451.5 L616.3 450.3 L616.0 449.2 L615.6 448.1 L615.2 447.0 L614.9 445.9 L614.5 444.8 L614.1 443.7 L613.7 442.6 L613.3 441.5 L612.9 440.4 L612.4 439.3 L612.0 438.2 L611.5 437.1 L611.1 436.1 L610.6 435.0 L610.1 433.9 L609.6 432.9 L609.1 431.8 L608.6 430.7 L608.1 429.7 L607.6 428.6 L607.1 427.6 L606.5 426.5 L606.0 425.5 L605.4 424.4 L604.8 423.4 L604.2 422.4 L603.6 421.4 L603.0 420.3 L602.4 419.3 L601.8 418.3 L601.2 417.3 L600.5 416.3 L599.9 415.3 L599.2 414.3 L598.6 413.4 L597.9 412.4 L597.2 411.4 L596.5 410.4 L595.8 409.5 L595.1 408.5 L594.4 407.6 L593.6 406.6 L592.9 405.7 L592.2 404.8 L591.4 403.8 L590.6 402.9 L589.9 402.0 L589.1 401.1 L588.3 400.2 L587.5 399.3 L586.6 398.5 L585.8 397.6 L584.9 396.8 L584.1 396.0 L583.2 395.1 L582.4 394.3 L581.5 393.5 L580.6 392.7 L579.7 391.9 L578.8 391.1 L577.9 390.3 L577.0 389.6 L576.0 388.8 L575.1 388.0 L574.2 387.3 L573.2 386.6 L572.3 385.8 L571.3 385.1 L570.4 384.4 L569.4 383.7 L568.4 383.0 L567.4 382.3 L566.4 381.6 L565.4 380.9 L564.4 380.3 L563.4 379.6 L562.4 379.0 L561.4 378.3 L560.4 377.7 L559.3 377.1 L558.3 376.5 L557.3 375.9 L556.2 375.3 L555.2 374.7 L554.1 374.1 L553.1 373.5 L552.0 373.0 L550.9 372.4 L549.8 371.9 L548.8 371.4 L547.7 370.8 L546.6 370.3 L545.5 369.8 L544.4 369.3 L543.3 368.9 L542.2 368.4 L541.0 367.9 L539.9 367.5 L538.8 367.0 L537.7 366.6 L536.6 366.2 L535.4 365.7 L534.3 365.3 L533.1 364.9 L532.0 364.6 L530.8 364.2 L529.7 363.8 L528.5 363.5 L527.4 363.1 L526.2 362.8 L525.0 362.5 L523.9 362.1 L522.7 361.8 L521.5 361.5 L520.4 361.3 L519.2 361.0 L518.0 360.7 L516.8 360.5 L515.6 360.2 L514.4 360.0 L513.2 359.8 L512.0 359.6 L510.8 359.4 L509.6 359.2 L508.4 359.0 L507.2 358.8 L506.0 358.7 L504.8 358.5 L503.6 358.4 L502.4 358.2 L501.2 358.1 L500.0 358.0 L498.8 357.9 L497.6 357.8 L496.4 357.7 L495.1 357.7 L493.9 357.6 L492.7 357.6 L491.5 357.6 L490.3 357.5 L489.1 357.5 L487.8 357.6 L486.6 357.6 L485.4 357.6 L484.2 357.6 L483.0 357.7 L481.8 357.8 L480.5 357.8 L479.3 357.9 L478.1 358.0 L476.9 358.1 L475.7 358.2 L474.5 358.4 L473.3 358.5 L472.1 358.6 L470.8 358.8 L469.6 359.0 L468.4 359.2 L467.2 359.3 L466.0 359.5 L464.8 359.8 L463.6 360.0 L462.4 360.2 L461.2 360.5 L460.0 360.7 L458.8 361.0 L457.7 361.2 L456.5 361.5 L455.3 361.8 L454.1 362.1 L452.9 362.4 L451.7 362.8 L450.6 363.1 L449.4 363.5 L448.2 363.8 L447.1 364.2 L445.9 364.6 L444.7 364.9 L443.6 365.3 L442.4 365.8 L441.3 366.2 L440.1 366.6 L439.0 367.0 L437.9 367.5 L436.7 367.9 L435.6 368.4 L434.5 368.9 L433.3 369.4 L432.2 369.9 L431.1 370.4 L430.0 370.9 L428.9 371.4 L427.8 372.0 L426.7 372.5 L425.6 373.1 L424.5 373.6 L423.4 374.2 L422.4 374.8 L421.3 375.4 L420.2 376.0 L419.2 376.6 L418.1 377.2 L417.0 377.9 L416.0 378.5 L415.0 379.1 L413.9 379.8 L412.9 380.5 L411.9 381.1 L410.9 381.8 L409.8 382.5 L408.8 383.2 L407.8 383.9 L406.8 384.7 L405.9 385.4 L404.9 386.1 L403.9 386.9 L402.9 387.6 L402.0 388.4 L401.0 389.2 L400.1 390.0 L399.1 390.7 L398.2 391.5 L397.3 392.3 L396.3 393.2 L395.4 394.0 L394.5 394.8 L393.6 395.7 L392.7 396.5 L391.9 397.4 L391.0 398.2 L390.2 399.2 L389.4 400.1 L388.5 401.0 L387.7 401.9 L386.9 402.8 L386.1 403.8 L385.4 404.7 L384.6 405.7 L383.8 406.6 L383.1 407.6 L382.3 408.6 L381.6 409.6 L380.8 410.5 L380.1 411.5 L379.4 412.5 L378.7 413.5 L378.0 414.5 L377.3 415.5 L376.6 416.6 L376.0 417.6 L375.3 418.6 L374.7 419.7 L374.0 420.7 L373.4 421.7 L372.8 422.8 L372.1 423.9 L371.5 424.9 L370.9 426.0 L370.4 427.1 L369.8 428.1 L369.2 429.2 L368.7 430.3 L368.1 431.4 L367.6 432.5 L367.0 433.6 L366.5 434.7 L366.0 435.8 L365.5 436.9 L365.0 438.0 L364.6 439.1 L364.1 440.3 L363.6 441.4 L363.2 442.5 L362.7 443.7 L362.3 444.8 L361.9 445.9 L361.5 447.1 L361.1 448.2 L360.7 449.4 L360.3 450.5 L360.0 451.7 L359.6 452.9 L359.3 454.0 L358.9 455.2 L358.6 456.4 L358.3 457.5 L358.0 458.7 L357.7 459.9 L357.4 461.1 L357.1 462.2 L356.8 463.4 L356.6 464.6 L356.3 465.8 L356.1 467.0 L355.9 468.2 L355.7 469.4 L355.5 470.6 L355.3 471.8 L355.1 473.0 L354.9 474.1 L354.8 475.3 L354.6 476.5 L354.5 477.7 L354.4 478.9 L354.2 480.1 L354.1 481.3 L354.0 482.6 L354.0 483.8 L353.9 485.0 L353.8 486.2 L353.8 487.4 L353.7 488.6 L353.7 489.8 L353.7 491.0 L353.6 492.2 L353.6 493.4 L353.6 494.6 L353.7 495.8 L353.7 497.0 L353.7 498.2 L353.7 499.4 L353.7 500.6 L353.7 501.8 L353.7 503.0 L353.7 504.2 L353.8 505.4 L353.8 506.6 L353.9 507.8 L354.0 509.0 L354.1 510.2 L354.2 511.4 L354.3 512.6 L354.4 513.8 L354.5 515.0 L354.7 516.2 L354.8 517.4 L355.0 518.6 L355.1 519.8 L355.3 521.0 L355.5 522.2 L355.7 523.4 L355.9 524.6 L356.1 525.8 L356.4 527.0 L356.6 528.1 L356.9 529.3 L357.1 530.5 L357.4 531.7 L357.7 532.9 L358.0 534.0 L358.3 535.2 L358.6 536.4 L358.9 537.5 L359.3 538.7 L359.6 539.8 L360.0 541.0 L360.3 542.2 L360.7 543.3 L361.1 544.5 L361.5 545.6 L361.9 546.7 L362.3 547.9 L362.8 549.0 L363.2 550.1 L363.6 551.3 L364.1 552.4 L364.6 553.5 L365.0 554.6 L365.5 555.7 L366.0 556.9 L366.5 558.0 L367.0 559.1 L367.6 560.1 L368.1 561.2 L368.6 562.3 L369.2 563.4 L369.8 564.5 L370.3 565.6 L370.9 566.6 L371.5 567.7 L372.1 568.7 L372.7 569.8 L373.3 570.8 L374.0 571.9 L374.6 572.9 L375.3 573.9 L375.9 575.0 L376.6 576.0 L377.2 577.0 L377.9 578.0 L378.6 579.0 L379.3 580.0 L380.0 581.0 L380.8 582.0 L381.5 583.0 L382.2 583.9 L383.0 584.9 L383.7 585.9 L384.5 586.8 L385.2 587.8 L386.0 588.7 L386.8 589.6 L387.6 590.6 L388.4 591.5 L389.2 592.4 L390.0 593.3 L390.9 594.2 L391.7 595.1 L392.5 596.0 L393.4 596.8 L394.3 597.6 L395.2 598.5 L396.1 599.3 L397.0 600.1 L397.9 600.9 L398.9 601.7 L399.8 602.5 L400.7 603.3 L401.7 604.0 L402.6 604.8 L403.6 605.6 L404.6 606.3 L405.5 607.0 L406.5 607.8 L407.5 608.5 L408.5 609.2 L409.5 609.9 L410.5 610.6 L411.5 611.3 L412.5 611.9 L413.5 612.6 L414.5 613.3 L415.6 613.9 L416.6 614.6 L417.7 615.2 L418.7 615.8 L419.7 616.4 L420.8 617.0 L421.9 617.6 L422.9 618.2 L424.0 618.8 L425.1 619.3 L426.2 619.9 L427.2 620.4 L428.3 621.0 L429.4 621.5 L430.5 622.0 L431.6 622.5 L432.7 623.0 L433.9 623.5 L435.0 624.0 L436.1 624.4 L437.2 624.9 L438.3 625.3 L439.5 625.8 L440.6 626.2 L441.7 626.6 L442.9 627.0 L444.0 627.4 L445.2 627.8 L446.3 628.2 L447.5 628.6 L448.6 628.9 L449.8 629.3 L451.0 629.6 L452.1 629.9 L453.3 630.2 L454.5 630.6 L455.6 630.9 L456.8 631.1 L458.0 631.4 L459.2 631.7 L460.3 631.9 L461.5 632.2 L462.7 632.4 L463.9 632.6 L465.1 632.8 L466.3 633.0 L467.5 633.2 L468.7 633.4 L469.9 633.6 L471.1 633.8 L472.3 633.9 L473.5 634.0 L474.7 634.2 L475.9 634.3 L477.1 634.4 L478.3 634.5 L479.5 634.6 L480.7 634.7 L481.9 634.7 L483.1 634.8 L484.3 634.8 L485.5 634.9 L486.7 634.9 L487.9 634.9 L489.1 634.9 L490.3 634.9 L491.5 634.9 L492.7 635.0 L493.9 635.0 L495.1 635.1 L496.3 635.1 L497.5 635.2 L498.7 635.2 L500.0 635.2 L501.2 635.2 L502.4 635.2 L503.6 635.2 L504.8 635.1 L506.0 635.1 L507.2 635.1 L508.4 635.0 L509.7 634.9 L510.9 634.8 L512.1 634.7 L513.3 634.6 L514.5 634.5 L515.7 634.4 L516.9 634.3 L518.2 634.1 L519.4 634.0 L520.6 633.8 L521.8 633.6 L523.0 633.4 L524.2 633.2 L525.4 633.0 L526.6 632.8 L527.8 632.6 L529.0 632.3 L530.2 632.1 L531.4 631.8 L532.6 631.5 L533.8 631.2 L535.0 630.9 L536.2 630.6 L537.4 630.3 L538.6 630.0 L539.8 629.7 L541.0 629.3 L542.1 628.9 L543.3 628.6 L544.5 628.2 L545.7 627.8 L546.8 627.4 L548.0 627.0 L549.2 626.6 L550.3 626.1 L551.5 625.7 L552.7 625.2 L553.8 624.8 L555.0 624.3 L556.1 623.8 L557.3 623.3 L558.4 622.8 L559.5 622.3 L560.7 621.8 L561.8 621.2 L562.9 620.7 L564.0 620.1 L565.1 619.5 L566.2 619.0 L567.3 618.4 L568.4 617.8 L569.5 617.2 L570.6 616.6 L571.7 615.9 L572.8 615.3 L573.9 614.7 L575.0 614.0 L576.0 613.3 L577.1 612.7 L578.1 612.0 L579.2 611.3 L580.2 610.6 L581.3 609.9 L582.3 609.1 L583.3 608.4 L584.3 607.7 L585.4 606.9 L586.4 606.1 L587.4 605.4 L588.4 604.6 L589.4 603.8 L590.3 603.0 L591.3 602.2 L592.3 601.4 L593.3 600.6 L594.2 599.7 L595.1 598.8 L596.0 598.0 L596.9 597.1 L597.8 596.2 L598.7 595.3 L599.6 594.3 L600.5 593.4 L601.3 592.5 L602.2 591.5 L603.0 590.6 L603.9 589.6 L604.7 588.7 L605.5 587.7 L606.3 586.7 L607.1 585.7 L607.9 584.7 L608.7 583.7 L609.5 582.7 L610.3 581.7 L611.0 580.7 L611.8 579.7 L612.5 578.6 L613.3 577.6 L614.0 576.6 L614.7 575.5 L615.4 574.4 L616.1 573.4 L616.8 572.3 L617.5 571.2 L618.2 570.1 L618.8 569.0 L619.5 567.9 L620.1 566.8 L620.8 565.7 L621.4 564.6 L622.0 563.5 L622.6 562.4 L623.2 561.2 L623.8 560.1 L624.4 559.0 L624.9 557.8 L625.5 556.7 L626.0 555.5 L626.6 554.3 L627.1 553.2 L627.6 552.0 L628.1 550.8 L628.6 549.6 L629.1 548.4 L629.6 547.3 L630.0 546.1 L630.4 544.8 L630.9 543.6 L631.3 542.4 L631.7 541.2 L632.1 540.0 L632.4 538.7 L632.8 537.5 L633.2 536.3 L633.5 535.0 L633.8 533.8 L634.2 532.6 L634.5 531.3 L634.8 530.1 L635.1 528.8 L635.3 527.6 L635.6 526.3 L635.9 525.1 L636.1 523.8 L636.4 522.5 L636.6 521.3 L636.8 520.0 L637.0 518.7 L637.2 517.5 L637.3 516.2 L637.5 514.9 L637.6 513.7 L637.8 512.4 L637.9 511.1 L638.0 509.8 L638.1 508.5 L638.2 507.3 L638.3 506.0 L638.4 504.7 L638.4 503.4 L638.5 502.1 L638.5 500.8 L638.5 499.6 L638.6 498.3 L638.6 497.0 L638.6 495.7 L638.5 494.4 L638.5 493.2 L638.5 491.9 L638.4 490.6 L638.4 489.3 L638.3 488.0 L638.2 486.7 L638.1 485.5 L636.4 484.1 L635.0 485.7 L635.1 487.0 L635.2 488.2 L635.2 489.5 L635.2 490.7 L635.3 492.0 L635.3 493.2 L635.3 494.5 L635.3 495.7 L635.3 497.0 L635.2 498.3 L635.2 499.5 L635.1 500.8 L635.1 502.0 L635.0 503.3 L634.9 504.5 L634.8 505.8 L634.7 507.0 L634.6 508.3 L634.5 509.5 L634.3 510.8 L634.2 512.0 L634.0 513.2 L633.9 514.5 L633.7 515.7 L633.5 517.0 L633.3 518.2 L633.1 519.4 L632.8 520.7 L632.6 521.9 L632.4 523.1 L632.1 524.3 L631.9 525.6 L631.6 526.8 L631.3 528.0 L631.0 529.2 L630.7 530.4 L630.4 531.6 L630.1 532.8 L629.8 534.0 L629.4 535.2 L629.1 536.4 L628.7 537.6 L628.3 538.8 L627.9 540.0 L627.5 541.2 L627.1 542.4 L626.7 543.6 L626.3 544.7 L625.9 545.9 L625.4 547.1 L624.9 548.2 L624.4 549.4 L623.9 550.5 L623.4 551.6 L622.9 552.8 L622.4 553.9 L621.8 555.0 L621.3 556.1 L620.7 557.3 L620.2 558.4 L619.6 559.5 L619.0 560.6 L618.4 561.7 L617.8 562.7 L617.2 563.8 L616.6 564.9 L615.9 566.0 L615.3 567.0 L614.6 568.1 L614.0 569.1 L613.3 570.2 L612.6 571.2 L611.9 572.3 L611.2 573.3 L610.5 574.3 L609.8 575.3 L609.1 576.3 L608.4 577.3 L607.6 578.3 L606.9 579.3 L606.1 580.3 L605.4 581.3 L604.6 582.2 L603.8 583.2 L603.0 584.1 L602.2 585.1 L601.4 586.0 L600.6 586.9 L599.8 587.9 L599.0 588.8 L598.1 589.7 L597.3 590.6 L596.4 591.5 L595.6 592.4 L594.7 593.2 L593.8 594.1 L593.0 595.0 L592.1 595.8 L591.2 596.7 L590.2 597.5 L589.3 598.3 L588.3 599.0 L587.4 599.8 L586.4 600.5 L585.4 601.3 L584.4 602.0 L583.4 602.8 L582.4 603.5 L581.4 604.2 L580.4 604.9 L579.4 605.6 L578.4 606.3 L577.4 606.9 L576.4 607.6 L575.3 608.2 L574.3 608.9 L573.3 609.5 L572.2 610.2 L571.2 610.8 L570.1 611.4 L569.0 612.0 L568.0 612.6 L566.9 613.1 L565.8 613.7 L564.8 614.2 L563.7 614.8 L562.6 615.3 L561.5 615.9 L560.4 616.4 L559.3 616.9 L558.2 617.4 L557.1 617.9 L556.0 618.3 L554.9 618.8 L553.8 619.3 L552.7 619.7 L551.6 620.1 L550.4 620.6 L549.3 621.0 L548.2 621.4 L547.1 621.8 L545.9 622.2 L544.8 622.5 L543.7 622.9 L542.5 623.3 L541.4 623.6 L540.2 623.9 L539.1 624.3 L537.9 624.6 L536.8 624.9 L535.6 625.2 L534.5 625.4 L533.3 625.7 L532.2 626.0 L531.0 626.2 L529.9 626.5 L528.7 626.7 L527.5 626.9 L526.4 627.1 L525.2 627.3 L524.0 627.5 L522.9 627.7 L521.7 627.9 L520.5 628.0 L519.4 628.2 L518.2 628.3 L517.0 628.4 L515.9 628.5 L514.7 628.6 L513.5 628.7 L512.4 628.8 L511.2 628.9 L510.0 629.0 L508.9 629.0 L507.7 629.1 L506.6 629.1 L505.4 629.1 L504.2 629.1 L503.1 629.1 L501.9 629.1 L500.7 629.1 L499.6 629.1 L498.4 629.0 L497.3 629.0 L496.1 628.9 L495.0 628.9 L493.8 628.8 L492.6 628.7 L491.5 628.6 L490.4 628.6 L489.2 628.6 L488.1 628.6 L486.9 628.6 L485.8 628.5 L484.6 628.5 L483.5 628.4 L482.3 628.4 L481.2 628.3 L480.0 628.2 L478.9 628.1 L477.7 628.0 L476.6 627.9 L475.4 627.8 L474.3 627.7 L473.2 627.5 L472.0 627.4 L470.9 627.2 L469.7 627.0 L468.6 626.9 L467.5 626.7 L466.3 626.5 L465.2 626.3 L464.1 626.0 L462.9 625.8 L461.8 625.6 L460.7 625.3 L459.6 625.1 L458.5 624.8 L457.3 624.5 L456.2 624.2 L455.1 623.9 L454.0 623.6 L452.9 623.3 L451.8 623.0 L450.7 622.6 L449.6 622.3 L448.5 621.9 L447.4 621.5 L446.3 621.2 L445.2 620.8 L444.1 620.4 L443.1 620.0 L442.0 619.6 L440.9 619.1 L439.8 618.7 L438.8 618.3 L437.7 617.8 L436.7 617.4 L435.6 616.9 L434.5 616.4 L433.5 615.9 L432.5 615.4 L431.4 614.9 L430.4 614.4 L429.4 613.9 L428.3 613.3 L427.3 612.8 L426.3 612.2 L425.3 611.7 L424.3 611.1 L423.3 610.5 L422.3 609.9 L421.3 609.3 L420.3 608.7 L419.3 608.1 L418.4 607.5 L417.4 606.9 L416.4 606.2 L415.5 605.6 L414.5 604.9 L413.6 604.3 L412.6 603.6 L411.7 602.9 L410.8 602.2 L409.8 601.5 L408.9 600.8 L408.0 600.1 L407.1 599.4 L406.2 598.6 L405.3 597.9 L404.4 597.2 L403.6 596.4 L402.7 595.6 L401.8 594.9 L401.0 594.1 L400.1 593.3 L399.3 592.5 L398.4 591.7 L397.6 590.9 L396.8 590.1 L396.0 589.2 L395.2 588.3 L394.5 587.5 L393.7 586.6 L393.0 585.7 L392.2 584.8 L391.5 583.9 L390.8 583.0 L390.1 582.1 L389.3 581.2 L388.6 580.3 L388.0 579.4 L387.3 578.4 L386.6 577.5 L385.9 576.6 L385.3 575.6 L384.6 574.7 L384.0 573.7 L383.3 572.7 L382.7 571.8 L382.1 570.8 L381.5 569.8 L380.9 568.8 L380.3 567.8 L379.7 566.8 L379.2 565.8 L378.6 564.8 L378.0 563.8 L377.5 562.8 L377.0 561.8 L376.4 560.8 L375.9 559.8 L375.4 558.7 L374.9 557.7 L374.4 556.7 L373.9 555.6 L373.5 554.6 L373.0 553.5 L372.6 552.5 L372.1 551.4 L371.7 550.3 L371.3 549.3 L370.8 548.2 L370.4 547.1 L370.0 546.1 L369.6 545.0 L369.3 543.9 L368.9 542.8 L368.5 541.8 L368.2 540.7 L367.9 539.6 L367.5 538.5 L367.2 537.4 L366.9 536.3 L366.6 535.2 L366.3 534.1 L366.0 533.0 L365.8 531.9 L365.5 530.8 L365.2 529.7 L365.0 528.5 L364.8 527.4 L364.5 526.3 L364.3 525.2 L364.1 524.1 L363.9 523.0 L363.8 521.8 L363.6 520.7 L363.4 519.6 L363.3 518.5 L363.1 517.3 L363.0 516.2 L362.9 515.1 L362.8 513.9 L362.6 512.8 L362.6 511.7 L362.5 510.6 L362.4 509.4 L362.3 508.3 L362.3 507.2 L362.2 506.0 L362.2 504.9 L362.2 503.8 L362.2 502.6 L362.2 501.5 L362.2 500.4 L362.2 499.3 L362.2 498.1 L362.2 497.0 L362.2 495.9 L362.2 494.7 L362.2 493.6 L362.2 492.5 L362.2 491.4 L362.2 490.2 L362.2 489.1 L362.3 488.0 L362.3 486.8 L362.4 485.7 L362.4 484.6 L362.5 483.4 L362.6 482.3 L362.7 481.2 L362.8 480.1 L362.9 478.9 L363.0 477.8 L363.2 476.7 L363.3 475.5 L363.5 474.4 L363.6 473.3 L363.8 472.2 L364.0 471.1 L364.2 469.9 L364.4 468.8 L364.6 467.7 L364.8 466.6 L365.1 465.5 L365.3 464.4 L365.6 463.3 L365.8 462.1 L366.1 461.0 L366.4 459.9 L366.7 458.8 L367.0 457.7 L367.3 456.6 L367.6 455.5 L367.9 454.5 L368.3 453.4 L368.6 452.3 L369.0 451.2 L369.4 450.1 L369.7 449.0 L370.1 448.0 L370.5 446.9 L370.9 445.8 L371.4 444.8 L371.8 443.7 L372.2 442.6 L372.7 441.6 L373.1 440.5 L373.6 439.5 L374.0 438.4 L374.5 437.4 L375.0 436.4 L375.5 435.3 L376.0 434.3 L376.6 433.3 L377.1 432.3 L377.6 431.2 L378.2 430.2 L378.7 429.2 L379.3 428.2 L379.9 427.2 L380.4 426.2 L381.0 425.3 L381.6 424.3 L382.2 423.3 L382.9 422.3 L383.5 421.4 L384.1 420.4 L384.8 419.4 L385.4 418.5 L386.1 417.5 L386.7 416.6 L387.4 415.7 L388.1 414.7 L388.8 413.8 L389.5 412.9 L390.2 412.0 L390.9 411.1 L391.6 410.2 L392.4 409.3 L393.1 408.4 L393.9 407.5 L394.6 406.7 L395.4 405.8 L396.2 404.9 L396.9 404.1 L397.7 403.2 L398.6 402.4 L399.4 401.6 L400.3 400.9 L401.1 400.1 L402.0 399.3 L402.9 398.6 L403.8 397.8 L404.6 397.1 L405.5 396.3 L406.4 395.6 L407.3 394.9 L408.2 394.2 L409.2 393.5 L410.1 392.8 L411.0 392.1 L411.9 391.4 L412.9 390.8 L413.8 390.1 L414.8 389.5 L415.7 388.8 L416.7 388.2 L417.7 387.5 L418.6 386.9 L419.6 386.3 L420.6 385.7 L421.6 385.1 L422.6 384.5 L423.6 384.0 L424.6 383.4 L425.6 382.9 L426.6 382.3 L427.6 381.8 L428.6 381.2 L429.7 380.7 L430.7 380.2 L431.7 379.7 L432.8 379.2 L433.8 378.7 L434.9 378.3 L435.9 377.8 L437.0 377.3 L438.0 376.9 L439.1 376.5 L440.1 376.0 L441.2 375.6 L442.3 375.2 L443.4 374.8 L444.4 374.4 L445.5 374.0 L446.6 373.7 L447.7 373.3 L448.8 372.9 L449.9 372.6 L451.0 372.3 L452.1 371.9 L453.2 371.6 L454.3 371.3 L455.4 371.0 L456.5 370.7 L457.6 370.5 L458.7 370.2 L459.8 370.0 L460.9 369.7 L462.1 369.5 L463.2 369.2 L464.3 369.0 L465.4 368.8 L466.5 368.6 L467.7 368.4 L468.8 368.3 L469.9 368.1 L471.1 367.9 L472.2 367.8 L473.3 367.7 L474.5 367.5 L475.6 367.4 L476.7 367.3 L477.9 367.2 L479.0 367.1 L480.1 367.0 L481.3 367.0 L482.4 366.9 L483.5 366.9 L484.7 366.8 L485.8 366.8 L487.0 366.8 L488.1 366.8 L489.2 366.8 L490.4 366.8 L491.5 366.8 L492.6 366.9 L493.8 366.9 L494.9 367.0 L496.0 367.1 L497.2 367.2 L498.3 367.3 L499.4 367.4 L500.6 367.5 L501.7 367.6 L502.8 367.8 L503.9 367.9 L505.0 368.1 L506.2 368.3 L507.3 368.4 L508.4 368.6 L509.5 368.8 L510.6 369.0 L511.7 369.3 L512.8 369.5 L513.9 369.7 L515.0 370.0 L516.1 370.2 L517.2 370.5 L518.3 370.8 L519.4 371.1 L520.5 371.4 L521.6 371.7 L522.7 372.0 L523.8 372.3 L524.8 372.6 L525.9 373.0 L527.0 373.3 L528.0 373.7 L529.1 374.0 L530.1 374.4 L531.2 374.8 L532.3 375.2 L533.3 375.6 L534.3 376.0 L535.4 376.4 L536.4 376.9 L537.4 377.3 L538.5 377.8 L539.5 378.2 L540.5 378.7 L541.5 379.2 L542.5 379.7 L543.5 380.1 L544.5 380.6 L545.5 381.2 L546.5 381.7 L547.5 382.2 L548.5 382.7 L549.4 383.3 L550.4 383.8 L551.4 384.4 L552.3 385.0 L553.3 385.5 L554.2 386.1 L555.2 386.7 L556.1 387.3 L557.0 387.9 L558.0 388.5 L558.9 389.2 L559.8 389.8 L560.7 390.4 L561.6 391.1 L562.5 391.7 L563.4 392.4 L564.3 393.1 L565.1 393.7 L566.0 394.4 L566.9 395.1 L567.7 395.8 L568.6 396.5 L569.4 397.2 L570.3 398.0 L571.1 398.7 L571.9 399.4 L572.8 400.2 L573.6 400.9 L574.4 401.7 L575.2 402.4 L576.0 403.2 L576.7 404.0 L577.5 404.8 L578.3 405.6 L579.0 406.3 L579.8 407.1 L580.5 408.0 L581.3 408.8 L581.9 409.7 L582.6 410.5 L583.3 411.4 L584.0 412.3 L584.6 413.1 L585.3 414.0 L585.9 414.9 L586.6 415.8 L587.2 416.7 L587.8 417.6 L588.5 418.5 L589.1 419.4 L589.7 420.3 L590.2 421.2 L590.8 422.2 L591.4 423.1 L592.0 424.0 L592.5 425.0 L593.0 425.9 L593.6 426.8 L594.1 427.8 L594.6 428.7 L595.1 429.7 L595.6 430.7 L596.1 431.6 L596.6 432.6 L597.1 433.6 L597.6 434.5 L598.0 435.5 L598.5 436.5 L598.9 437.5 L599.3 438.5 L599.7 439.4 L600.2 440.4 L600.6 441.4 L601.0 442.4 L601.3 443.4 L601.7 444.4 L602.1 445.4 L602.4 446.4 L602.8 447.5 L603.1 448.5 L603.4 449.5 L603.8 450.5 L604.1 451.5 L604.4 452.5 L604.7 453.6 L605.0 454.6 L605.2 455.6 L605.5 456.6 L605.8 457.7 L606.0 458.7 L606.3 459.7 L606.5 460.7 L606.7 461.8 L607.0 462.8 L607.2 463.8 L607.4 464.9 L607.6 465.9 L607.7 466.9 L607.9 468.0 L608.1 469.0 L608.2 470.1 L608.4 471.1 L608.5 472.1 L608.6 473.2 L608.8 474.2 L608.9 475.2 L609.0 476.3 L609.1 477.3 L609.1 478.4 L609.2 479.4 L609.3 480.4 L609.3 481.5 L609.4 482.5 L609.4 483.6 L609.4 484.6 L609.4 485.6 L609.5 486.7 L609.5 487.7 L609.4 488.8 L609.4 489.8 L609.4 490.8 L609.4 491.9 L609.3 492.9 L609.3 493.9 L609.2 494.9 L609.1 496.0 L609.0 497.0 L608.9 498.0 L608.8 499.0 L608.7 500.1 L608.6 501.1 L608.5 502.1 L608.4 503.1 L608.2 504.1 L608.1 505.2 L607.9 506.2 L607.7 507.2 L607.5 508.2 L607.3 509.2 L607.2 510.2 L606.9 511.2 L606.7 512.2 L612.2 512.2 L614.8 509.3 L618.0 510.1 Z" fill="#e81416"/>
<line x1="254.0" y1="385.4" x2="325.8" y2="422.0" stroke="#0a0a0a" stroke-width="4.0"/><path d="M359.7 439.3 L307.5 429.3 L323.2 420.7 L321.0 402.9 Z" fill="#0a0a0a"/>
<line x1="384.0" y1="257.2" x2="410.1" y2="334.7" stroke="#0a0a0a" stroke-width="4.0"/><path d="M422.2 370.7 L391.9 327.1 L409.1 331.8 L420.0 317.6 Z" fill="#0a0a0a"/>
<line x1="584.0" y1="249.4" x2="554.4" y2="323.7" stroke="#0a0a0a" stroke-width="4.0"/><path d="M540.3 359.0 L545.4 306.1 L555.5 320.9 L572.9 317.1 Z" fill="#0a0a0a"/>
<line x1="720.4" y1="363.8" x2="653.6" y2="402.8" stroke="#0a0a0a" stroke-width="4.0"/><path d="M620.8 422.0 L657.4 383.5 L656.2 401.3 L672.3 409.0 Z" fill="#0a0a0a"/>
<text transform="translate(100.10 336.50) scale(0.920 1)" font-size="31.00" textLength="117.47" lengthAdjust="spacing">Obesity</text>
<text transform="translate(306.80 130.50) scale(0.920 1)" font-size="31.00" textLength="98.71" lengthAdjust="spacing">Family</text>
<text transform="translate(308.00 170.70) scale(0.920 1)" font-size="31.00" textLength="105.57" lengthAdjust="spacing">History</text>
<text transform="translate(557.80 129.50) scale(0.920 1)" font-size="31.00" textLength="156.23" lengthAdjust="spacing">Sedentary</text>
<text transform="translate(573.00 170.30) scale(0.920 1)" font-size="31.00" textLength="127.34" lengthAdjust="spacing">Lifestyle</text>
<text transform="translate(798.30 270.80) scale(0.920 1)" font-size="31.00" textLength="60.41" lengthAdjust="spacing">Age</text>
<text transform="translate(763.80 310.90) scale(0.920 1)" font-size="31.00" textLength="134.86" lengthAdjust="spacing">Between</text>
<text transform="translate(753.00 351.10) scale(0.920 1)" font-size="31.00" textLength="167.11" lengthAdjust="spacing">15-30 Year</text>
<text transform="translate(408.50 517.00) scale(0.800 1)" font-size="63.50" textLength="183.93" lengthAdjust="spacing">PCOS</text>
</svg>
</body></html>
